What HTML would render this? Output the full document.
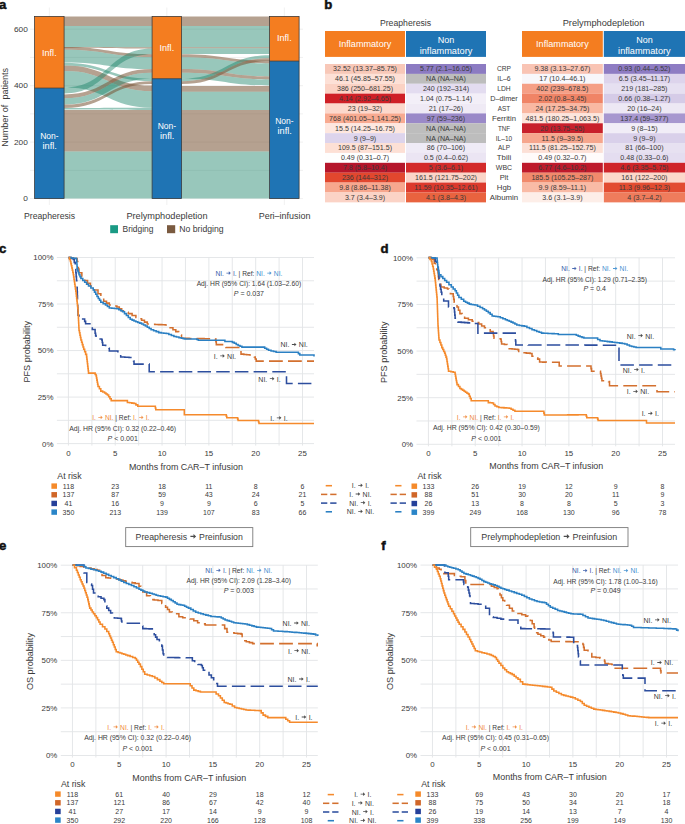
<!DOCTYPE html>
<html><head><meta charset="utf-8"><style>
html,body{margin:0;padding:0;background:#fff;}
svg{display:block;font-family:"Liberation Sans", sans-serif;}
</style></head><body>
<svg width="685" height="824" viewBox="0 0 685 824">
<rect width="685" height="824" fill="#fff"/>
<g id="panela">
<text x="-1" y="8.8" font-size="13.2" font-weight="bold" fill="#111" stroke="#111" stroke-width="0.5">a</text>
<line x1="30.00" y1="198.60" x2="303.00" y2="198.60" stroke="#e6e6e6" stroke-width="0.6" />
<line x1="30.00" y1="170.37" x2="303.00" y2="170.37" stroke="#e6e6e6" stroke-width="0.6" />
<line x1="30.00" y1="142.13" x2="303.00" y2="142.13" stroke="#e6e6e6" stroke-width="0.6" />
<line x1="30.00" y1="113.90" x2="303.00" y2="113.90" stroke="#e6e6e6" stroke-width="0.6" />
<line x1="30.00" y1="85.67" x2="303.00" y2="85.67" stroke="#e6e6e6" stroke-width="0.6" />
<line x1="30.00" y1="57.43" x2="303.00" y2="57.43" stroke="#e6e6e6" stroke-width="0.6" />
<line x1="30.00" y1="29.20" x2="303.00" y2="29.20" stroke="#e6e6e6" stroke-width="0.6" />
<text x="27.90" y="201.00" font-size="7.3" text-anchor="end" fill="#3a3a3a" font-weight="normal" textLength="4.63" lengthAdjust="spacingAndGlyphs">0</text>
<text x="27.90" y="144.53" font-size="7.3" text-anchor="end" fill="#3a3a3a" font-weight="normal" textLength="13.89" lengthAdjust="spacingAndGlyphs">200</text>
<text x="27.90" y="88.07" font-size="7.3" text-anchor="end" fill="#3a3a3a" font-weight="normal" textLength="13.89" lengthAdjust="spacingAndGlyphs">400</text>
<text x="27.90" y="31.60" font-size="7.3" text-anchor="end" fill="#3a3a3a" font-weight="normal" textLength="13.89" lengthAdjust="spacingAndGlyphs">600</text>
<line x1="49.35" y1="7.50" x2="49.35" y2="205.00" stroke="#e6e6e6" stroke-width="0.6" />
<line x1="166.85" y1="7.50" x2="166.85" y2="205.00" stroke="#e6e6e6" stroke-width="0.6" />
<line x1="284.35" y1="7.50" x2="284.35" y2="205.00" stroke="#e6e6e6" stroke-width="0.6" />
<path d="M64.10,16.40 C108.10,16.40 108.10,16.40 152.10,16.40 L152.10,26.00 C108.10,26.00 108.10,26.00 64.10,26.00 Z" fill="rgba(120,84,52,0.55)"/>
<path d="M64.10,26.00 C108.10,26.00 108.10,26.00 152.10,26.00 L152.10,47.20 C108.10,47.20 108.10,47.00 64.10,47.00 Z" fill="rgba(26,131,104,0.45)"/>
<path d="M64.10,47.00 C108.10,47.00 108.10,54.20 152.10,54.20 L152.10,57.00 C108.10,57.00 108.10,49.70 64.10,49.70 Z" fill="rgba(120,84,52,0.55)"/>
<path d="M64.10,49.70 C108.10,49.70 108.10,57.00 152.10,57.00 L152.10,69.10 C108.10,69.10 108.10,62.40 64.10,62.40 Z" fill="rgba(26,131,104,0.45)"/>
<path d="M64.10,62.80 C108.10,62.80 108.10,78.70 152.10,78.70 L152.10,81.20 C108.10,81.20 108.10,65.40 64.10,65.40 Z" fill="rgba(26,131,104,0.45)"/>
<path d="M64.10,65.40 C108.10,65.40 108.10,85.50 152.10,85.50 L152.10,91.30 C108.10,91.30 108.10,71.10 64.10,71.10 Z" fill="rgba(120,84,52,0.55)"/>
<path d="M64.10,71.10 C108.10,71.10 108.10,91.30 152.10,91.30 L152.10,107.80 C108.10,107.80 108.10,87.60 64.10,87.60 Z" fill="rgba(26,131,104,0.45)"/>
<path d="M64.10,87.60 C108.10,87.60 108.10,48.60 152.10,48.60 L152.10,54.20 C108.10,54.20 108.10,93.40 64.10,93.40 Z" fill="rgba(26,131,104,0.45)"/>
<path d="M64.10,94.40 C108.10,94.40 108.10,69.10 152.10,69.10 L152.10,72.80 C108.10,72.80 108.10,98.30 64.10,98.30 Z" fill="rgba(120,84,52,0.55)"/>
<path d="M64.10,98.30 C108.10,98.30 108.10,72.80 152.10,72.80 L152.10,78.70 C108.10,78.70 108.10,104.60 64.10,104.60 Z" fill="rgba(26,131,104,0.45)"/>
<path d="M64.10,104.60 C108.10,104.60 108.10,81.20 152.10,81.20 L152.10,84.00 C108.10,84.00 108.10,108.00 64.10,108.00 Z" fill="rgba(120,84,52,0.55)"/>
<path d="M64.10,108.00 C108.10,108.00 108.10,107.80 152.10,107.80 L152.10,110.00 C108.10,110.00 108.10,109.60 64.10,109.60 Z" fill="rgba(26,131,104,0.45)"/>
<path d="M64.10,110.00 C108.10,110.00 108.10,110.00 152.10,110.00 L152.10,151.60 C108.10,151.60 108.10,151.60 64.10,151.60 Z" fill="rgba(120,84,52,0.55)"/>
<path d="M64.10,151.60 C108.10,151.60 108.10,151.60 152.10,151.60 L152.10,198.60 C108.10,198.60 108.10,198.60 64.10,198.60 Z" fill="rgba(26,131,104,0.45)"/>
<path d="M64.10,47.00 C108.10,47.00 108.10,47.20 152.10,47.20 L152.10,48.60 C108.10,48.60 108.10,47.80 64.10,47.80 Z" fill="rgba(120,84,52,0.55)"/>
<path d="M181.60,16.40 C225.60,16.40 225.60,16.40 269.60,16.40 L269.60,26.00 C225.60,26.00 225.60,26.00 181.60,26.00 Z" fill="rgba(120,84,52,0.55)"/>
<path d="M181.60,26.00 C225.60,26.00 225.60,26.00 269.60,26.00 L269.60,47.20 C225.60,47.20 225.60,47.20 181.60,47.20 Z" fill="rgba(26,131,104,0.45)"/>
<path d="M181.60,47.20 C225.60,47.20 225.60,47.20 269.60,47.20 L269.60,48.20 C225.60,48.20 225.60,48.20 181.60,48.20 Z" fill="rgba(120,84,52,0.55)"/>
<path d="M181.60,48.20 C225.60,48.20 225.60,48.20 269.60,48.20 L269.60,54.00 C225.60,54.00 225.60,54.00 181.60,54.00 Z" fill="rgba(26,131,104,0.45)"/>
<path d="M181.60,54.20 C225.60,54.20 225.60,60.60 269.60,60.60 L269.60,63.40 C225.60,63.40 225.60,57.20 181.60,57.20 Z" fill="rgba(120,84,52,0.55)"/>
<path d="M181.60,57.20 C225.60,57.20 225.60,63.40 269.60,63.40 L269.60,76.40 C225.60,76.40 225.60,69.10 181.60,69.10 Z" fill="rgba(26,131,104,0.45)"/>
<path d="M181.60,69.10 C225.60,69.10 225.60,76.40 269.60,76.40 L269.60,79.40 C225.60,79.40 225.60,72.80 181.60,72.80 Z" fill="rgba(120,84,52,0.55)"/>
<path d="M181.60,72.80 C225.60,72.80 225.60,79.40 269.60,79.40 L269.60,85.40 C225.60,85.40 225.60,78.70 181.60,78.70 Z" fill="rgba(26,131,104,0.45)"/>
<path d="M181.60,78.70 C225.60,78.70 225.60,55.20 269.60,55.20 L269.60,58.20 C225.60,58.20 225.60,81.20 181.60,81.20 Z" fill="rgba(26,131,104,0.45)"/>
<path d="M181.60,81.20 C225.60,81.20 225.60,58.20 269.60,58.20 L269.60,61.10 C225.60,61.10 225.60,84.00 181.60,84.00 Z" fill="rgba(120,84,52,0.55)"/>
<path d="M181.60,85.90 C225.60,85.90 225.60,85.90 269.60,85.90 L269.60,91.80 C225.60,91.80 225.60,91.80 181.60,91.80 Z" fill="rgba(120,84,52,0.55)"/>
<path d="M181.60,91.80 C225.60,91.80 225.60,91.80 269.60,91.80 L269.60,110.00 C225.60,110.00 225.60,110.00 181.60,110.00 Z" fill="rgba(26,131,104,0.45)"/>
<path d="M181.60,110.00 C225.60,110.00 225.60,110.00 269.60,110.00 L269.60,151.60 C225.60,151.60 225.60,151.60 181.60,151.60 Z" fill="rgba(120,84,52,0.55)"/>
<path d="M181.60,151.60 C225.60,151.60 225.60,151.60 269.60,151.60 L269.60,198.60 C225.60,198.60 225.60,198.60 181.60,198.60 Z" fill="rgba(26,131,104,0.45)"/>
<rect x="34.60" y="16.40" width="29.50" height="71.70" fill="#f47d20" />
<rect x="34.60" y="88.10" width="29.50" height="110.50" fill="#1f74b4" />
<rect x="34.60" y="16.4" width="29.5" height="182.20" fill="none" stroke="#333" stroke-width="0.75"/>
<line x1="34.60" y1="88.10" x2="64.10" y2="88.10" stroke="#333" stroke-width="0.75"/>
<rect x="152.10" y="16.40" width="29.50" height="62.30" fill="#f47d20" />
<rect x="152.10" y="78.70" width="29.50" height="119.90" fill="#1f74b4" />
<rect x="152.10" y="16.4" width="29.5" height="182.20" fill="none" stroke="#333" stroke-width="0.75"/>
<line x1="152.10" y1="78.70" x2="181.60" y2="78.70" stroke="#333" stroke-width="0.75"/>
<rect x="269.60" y="16.40" width="29.50" height="44.70" fill="#f47d20" />
<rect x="269.60" y="61.10" width="29.50" height="137.50" fill="#1f74b4" />
<rect x="269.60" y="16.4" width="29.5" height="182.20" fill="none" stroke="#333" stroke-width="0.75"/>
<line x1="269.60" y1="61.10" x2="299.10" y2="61.10" stroke="#333" stroke-width="0.75"/>
<text x="49.35" y="56.00" font-size="8.5" text-anchor="middle" fill="#fff" font-weight="normal" textLength="14.6" lengthAdjust="spacingAndGlyphs">Infl.</text>
<text x="49.35" y="138.90" font-size="8.5" text-anchor="middle" fill="#fff" font-weight="normal" textLength="18.4" lengthAdjust="spacingAndGlyphs">Non-</text>
<text x="49.65" y="148.80" font-size="8.5" text-anchor="middle" fill="#fff" font-weight="normal" textLength="14.4" lengthAdjust="spacingAndGlyphs">infl.</text>
<text x="166.85" y="50.80" font-size="8.5" text-anchor="middle" fill="#fff" font-weight="normal" textLength="14.6" lengthAdjust="spacingAndGlyphs">Infl.</text>
<text x="166.85" y="129.00" font-size="8.5" text-anchor="middle" fill="#fff" font-weight="normal" textLength="18.4" lengthAdjust="spacingAndGlyphs">Non-</text>
<text x="167.15" y="138.90" font-size="8.5" text-anchor="middle" fill="#fff" font-weight="normal" textLength="14.4" lengthAdjust="spacingAndGlyphs">infl.</text>
<text x="284.35" y="40.80" font-size="8.5" text-anchor="middle" fill="#fff" font-weight="normal" textLength="14.6" lengthAdjust="spacingAndGlyphs">Infl.</text>
<text x="284.35" y="123.70" font-size="8.5" text-anchor="middle" fill="#fff" font-weight="normal" textLength="18.4" lengthAdjust="spacingAndGlyphs">Non-</text>
<text x="284.65" y="133.60" font-size="8.5" text-anchor="middle" fill="#fff" font-weight="normal" textLength="14.4" lengthAdjust="spacingAndGlyphs">infl.</text>
<text x="49.60" y="218.70" font-size="8.8" text-anchor="middle" fill="#3a3a3a" font-weight="normal" textLength="51" lengthAdjust="spacingAndGlyphs">Preapheresis</text>
<text x="167.00" y="218.70" font-size="8.8" text-anchor="middle" fill="#3a3a3a" font-weight="normal" textLength="81.2" lengthAdjust="spacingAndGlyphs">Prelymphodepletion</text>
<text x="284.55" y="218.70" font-size="8.8" text-anchor="middle" fill="#3a3a3a" font-weight="normal" textLength="51.7" lengthAdjust="spacingAndGlyphs">Peri–infusion</text>
<text x="0" y="0" font-size="9.0" text-anchor="middle" fill="#3a3a3a" textLength="78.9" lengthAdjust="spacingAndGlyphs" style="white-space:pre" transform="translate(7.9,107.4) rotate(-90)">Number of  patients</text>
<rect x="110.20" y="225.20" width="7.80" height="8.00" fill="#1a9a84" />
<text x="122.50" y="231.50" font-size="8.6" text-anchor="start" fill="#3a3a3a" font-weight="normal" textLength="31" lengthAdjust="spacingAndGlyphs">Bridging</text>
<rect x="167.00" y="225.20" width="8.20" height="8.00" fill="#7a5a40" />
<text x="179.30" y="231.50" font-size="8.6" text-anchor="start" fill="#3a3a3a" font-weight="normal" textLength="44.3" lengthAdjust="spacingAndGlyphs">No bridging</text>
</g>
<g id="panelb">
<text x="324.2" y="8.8" font-size="13.2" font-weight="bold" fill="#111" stroke="#111" stroke-width="0.5">b</text>
<text x="405.50" y="25.90" font-size="8.5" text-anchor="middle" fill="#3a3a3a" font-weight="normal" textLength="51.2" lengthAdjust="spacingAndGlyphs">Preapheresis</text>
<rect x="325.00" y="31.00" width="80.00" height="25.90" fill="#f47d20" />
<rect x="406.00" y="31.00" width="80.00" height="25.90" fill="#1f74b4" />
<text x="365.00" y="46.90" font-size="8.5" text-anchor="middle" fill="#fff" font-weight="normal" textLength="52.6" lengthAdjust="spacingAndGlyphs">Inflammatory</text>
<text x="446.00" y="43.30" font-size="8.5" text-anchor="middle" fill="#fff" font-weight="normal" textLength="16.5" lengthAdjust="spacingAndGlyphs">Non</text>
<text x="446.00" y="53.60" font-size="8.5" text-anchor="middle" fill="#fff" font-weight="normal" textLength="52.6" lengthAdjust="spacingAndGlyphs">inflammatory</text>
<rect x="325.00" y="64.00" width="80.00" height="9.93" fill="#f8c8b8" />
<rect x="406.00" y="64.00" width="80.00" height="9.93" fill="#8c7bc2" />
<text x="365.00" y="71.35" font-size="7.1" text-anchor="middle" fill="#3a3a3a" font-weight="normal" >32.52 (13.37–85.75)</text>
<text x="446.00" y="71.35" font-size="7.1" text-anchor="middle" fill="#3a3a3a" font-weight="normal" >5.77 (2.1–16.05)</text>
<rect x="325.00" y="73.88" width="80.00" height="9.93" fill="#fde0d6" />
<rect x="406.00" y="73.88" width="80.00" height="9.93" fill="#bdbdbd" />
<text x="365.00" y="81.23" font-size="7.1" text-anchor="middle" fill="#3a3a3a" font-weight="normal" >46.1 (45.85–57.55)</text>
<text x="446.00" y="81.23" font-size="7.1" text-anchor="middle" fill="#3a3a3a" font-weight="normal" >NA (NA–NA)</text>
<rect x="325.00" y="83.76" width="80.00" height="9.93" fill="#fbd2c4" />
<rect x="406.00" y="83.76" width="80.00" height="9.93" fill="#e3dcf0" />
<text x="365.00" y="91.11" font-size="7.1" text-anchor="middle" fill="#3a3a3a" font-weight="normal" >386 (250–681.25)</text>
<text x="446.00" y="91.11" font-size="7.1" text-anchor="middle" fill="#3a3a3a" font-weight="normal" >240 (192–314)</text>
<rect x="325.00" y="93.64" width="80.00" height="9.93" fill="#cf1f26" />
<rect x="406.00" y="93.64" width="80.00" height="9.93" fill="#f3eff8" />
<text x="365.00" y="100.99" font-size="7.1" text-anchor="middle" fill="#3a3a3a" font-weight="normal" >4.14 (2.92–4.65)</text>
<text x="446.00" y="100.99" font-size="7.1" text-anchor="middle" fill="#3a3a3a" font-weight="normal" >1.04 (0.75–1.14)</text>
<rect x="325.00" y="103.52" width="80.00" height="9.93" fill="#fcd8cc" />
<rect x="406.00" y="103.52" width="80.00" height="9.93" fill="#efeaf5" />
<text x="365.00" y="110.87" font-size="7.1" text-anchor="middle" fill="#3a3a3a" font-weight="normal" >23 (19–32)</text>
<text x="446.00" y="110.87" font-size="7.1" text-anchor="middle" fill="#3a3a3a" font-weight="normal" >21 (17–26)</text>
<rect x="325.00" y="113.40" width="80.00" height="9.93" fill="#f8aa90" />
<rect x="406.00" y="113.40" width="80.00" height="9.93" fill="#9a89c8" />
<text x="365.00" y="120.75" font-size="7.1" text-anchor="middle" fill="#3a3a3a" font-weight="normal" >768 (401.05–1,141.25)</text>
<text x="446.00" y="120.75" font-size="7.1" text-anchor="middle" fill="#3a3a3a" font-weight="normal" >97 (59–236)</text>
<rect x="325.00" y="123.28" width="80.00" height="9.93" fill="#fee7df" />
<rect x="406.00" y="123.28" width="80.00" height="9.93" fill="#bdbdbd" />
<text x="365.00" y="130.63" font-size="7.1" text-anchor="middle" fill="#3a3a3a" font-weight="normal" >15.5 (14.25–16.75)</text>
<text x="446.00" y="130.63" font-size="7.1" text-anchor="middle" fill="#3a3a3a" font-weight="normal" >NA (NA–NA)</text>
<rect x="325.00" y="133.16" width="80.00" height="9.93" fill="#ddd4ec" />
<rect x="406.00" y="133.16" width="80.00" height="9.93" fill="#bdbdbd" />
<text x="365.00" y="140.51" font-size="7.1" text-anchor="middle" fill="#3a3a3a" font-weight="normal" >9 (9–9)</text>
<text x="446.00" y="140.51" font-size="7.1" text-anchor="middle" fill="#3a3a3a" font-weight="normal" >NA (NA–NA)</text>
<rect x="325.00" y="143.04" width="80.00" height="9.93" fill="#fde0d5" />
<rect x="406.00" y="143.04" width="80.00" height="9.93" fill="#efebf6" />
<text x="365.00" y="150.39" font-size="7.1" text-anchor="middle" fill="#3a3a3a" font-weight="normal" >109.5 (87–151.5)</text>
<text x="446.00" y="150.39" font-size="7.1" text-anchor="middle" fill="#3a3a3a" font-weight="normal" >86 (70–106)</text>
<rect x="325.00" y="152.92" width="80.00" height="9.93" fill="#fefefe" />
<rect x="406.00" y="152.92" width="80.00" height="9.93" fill="#ebe5f3" />
<text x="365.00" y="160.27" font-size="7.1" text-anchor="middle" fill="#3a3a3a" font-weight="normal" >0.49 (0.31–0.7)</text>
<text x="446.00" y="160.27" font-size="7.1" text-anchor="middle" fill="#3a3a3a" font-weight="normal" >0.5 (0.4–0.62)</text>
<rect x="325.00" y="162.80" width="80.00" height="9.93" fill="#b5162b" />
<rect x="406.00" y="162.80" width="80.00" height="9.93" fill="#d32a2a" />
<text x="365.00" y="170.15" font-size="7.1" text-anchor="middle" fill="#3a3a3a" font-weight="normal" >7.8 (5.8–10.4)</text>
<text x="446.00" y="170.15" font-size="7.1" text-anchor="middle" fill="#3a3a3a" font-weight="normal" >5 (3.6–6.1)</text>
<rect x="325.00" y="172.68" width="80.00" height="9.93" fill="#e2472e" />
<rect x="406.00" y="172.68" width="80.00" height="9.93" fill="#fbd5c8" />
<text x="365.00" y="180.03" font-size="7.1" text-anchor="middle" fill="#3a3a3a" font-weight="normal" >236 (144–312)</text>
<text x="446.00" y="180.03" font-size="7.1" text-anchor="middle" fill="#3a3a3a" font-weight="normal" >161.5 (121.75–202)</text>
<rect x="325.00" y="182.56" width="80.00" height="9.93" fill="#f7a78e" />
<rect x="406.00" y="182.56" width="80.00" height="9.93" fill="#dc3a2d" />
<text x="365.00" y="189.91" font-size="7.1" text-anchor="middle" fill="#3a3a3a" font-weight="normal" >9.8 (8.86–11.38)</text>
<text x="446.00" y="189.91" font-size="7.1" text-anchor="middle" fill="#3a3a3a" font-weight="normal" >11.59 (10.35–12.61)</text>
<rect x="325.00" y="192.44" width="80.00" height="9.93" fill="#fbd3c6" />
<rect x="406.00" y="192.44" width="80.00" height="9.93" fill="#e9633f" />
<text x="365.00" y="199.79" font-size="7.1" text-anchor="middle" fill="#3a3a3a" font-weight="normal" >3.7 (3.4–3.9)</text>
<text x="446.00" y="199.79" font-size="7.1" text-anchor="middle" fill="#3a3a3a" font-weight="normal" >4.1 (3.8–4.3)</text>
<text x="603.50" y="25.90" font-size="8.5" text-anchor="middle" fill="#3a3a3a" font-weight="normal" textLength="81.7" lengthAdjust="spacingAndGlyphs">Prelymphodepletion</text>
<rect x="522.00" y="31.00" width="80.80" height="25.90" fill="#f47d20" />
<rect x="603.80" y="31.00" width="81.20" height="25.90" fill="#1f74b4" />
<text x="562.40" y="46.90" font-size="8.5" text-anchor="middle" fill="#fff" font-weight="normal" textLength="52.6" lengthAdjust="spacingAndGlyphs">Inflammatory</text>
<text x="644.40" y="43.30" font-size="8.5" text-anchor="middle" fill="#fff" font-weight="normal" textLength="16.5" lengthAdjust="spacingAndGlyphs">Non</text>
<text x="644.40" y="53.60" font-size="8.5" text-anchor="middle" fill="#fff" font-weight="normal" textLength="52.6" lengthAdjust="spacingAndGlyphs">inflammatory</text>
<rect x="522.00" y="64.00" width="80.80" height="9.93" fill="#f9c4b4" />
<rect x="603.80" y="64.00" width="81.20" height="9.93" fill="#8e7cc3" />
<text x="562.40" y="71.35" font-size="7.1" text-anchor="middle" fill="#3a3a3a" font-weight="normal" >9.38 (3.13–27.67)</text>
<text x="644.40" y="71.35" font-size="7.1" text-anchor="middle" fill="#3a3a3a" font-weight="normal" >0.93 (0.44–6.52)</text>
<rect x="522.00" y="73.88" width="80.80" height="9.93" fill="#f8f7fb" />
<rect x="603.80" y="73.88" width="81.20" height="9.93" fill="#ddd4ec" />
<text x="562.40" y="81.23" font-size="7.1" text-anchor="middle" fill="#3a3a3a" font-weight="normal" >17 (10.4–46.1)</text>
<text x="644.40" y="81.23" font-size="7.1" text-anchor="middle" fill="#3a3a3a" font-weight="normal" >6.5 (3.45–11.17)</text>
<rect x="522.00" y="83.76" width="80.80" height="9.93" fill="#f59f86" />
<rect x="603.80" y="83.76" width="81.20" height="9.93" fill="#e6e0f1" />
<text x="562.40" y="91.11" font-size="7.1" text-anchor="middle" fill="#3a3a3a" font-weight="normal" >402 (239–678.5)</text>
<text x="644.40" y="91.11" font-size="7.1" text-anchor="middle" fill="#3a3a3a" font-weight="normal" >219 (181–285)</text>
<rect x="522.00" y="93.64" width="80.80" height="9.93" fill="#f08466" />
<rect x="603.80" y="93.64" width="81.20" height="9.93" fill="#d5cbe7" />
<text x="562.40" y="100.99" font-size="7.1" text-anchor="middle" fill="#3a3a3a" font-weight="normal" >2.02 (0.8–3.45)</text>
<text x="644.40" y="100.99" font-size="7.1" text-anchor="middle" fill="#3a3a3a" font-weight="normal" >0.66 (0.38–1.27)</text>
<rect x="522.00" y="103.52" width="80.80" height="9.93" fill="#f9b8a2" />
<rect x="603.80" y="103.52" width="81.20" height="9.93" fill="#ede8f4" />
<text x="562.40" y="110.87" font-size="7.1" text-anchor="middle" fill="#3a3a3a" font-weight="normal" >24 (17.25–34.75)</text>
<text x="644.40" y="110.87" font-size="7.1" text-anchor="middle" fill="#3a3a3a" font-weight="normal" >20 (16–24)</text>
<rect x="522.00" y="113.40" width="80.80" height="9.93" fill="#fde5dc" />
<rect x="603.80" y="113.40" width="81.20" height="9.93" fill="#a797cf" />
<text x="562.40" y="120.75" font-size="7.1" text-anchor="middle" fill="#3a3a3a" font-weight="normal" >481.5 (180.25–1,063.5)</text>
<text x="644.40" y="120.75" font-size="7.1" text-anchor="middle" fill="#3a3a3a" font-weight="normal" >137.4 (59–377)</text>
<rect x="522.00" y="123.28" width="80.80" height="9.93" fill="#c8202b" />
<rect x="603.80" y="123.28" width="81.20" height="9.93" fill="#f1edf7" />
<text x="562.40" y="130.63" font-size="7.1" text-anchor="middle" fill="#3a3a3a" font-weight="normal" >20 (13.75–55)</text>
<text x="644.40" y="130.63" font-size="7.1" text-anchor="middle" fill="#3a3a3a" font-weight="normal" >9 (8–15)</text>
<rect x="522.00" y="133.16" width="80.80" height="9.93" fill="#f6a68d" />
<rect x="603.80" y="133.16" width="81.20" height="9.93" fill="#d9d0ea" />
<text x="562.40" y="140.51" font-size="7.1" text-anchor="middle" fill="#3a3a3a" font-weight="normal" >11.5 (9–39.5)</text>
<text x="644.40" y="140.51" font-size="7.1" text-anchor="middle" fill="#3a3a3a" font-weight="normal" >9 (9–9)</text>
<rect x="522.00" y="143.04" width="80.80" height="9.93" fill="#fce0d6" />
<rect x="603.80" y="143.04" width="81.20" height="9.93" fill="#e7e1f1" />
<text x="562.40" y="150.39" font-size="7.1" text-anchor="middle" fill="#3a3a3a" font-weight="normal" >111.5 (81.25–152.75)</text>
<text x="644.40" y="150.39" font-size="7.1" text-anchor="middle" fill="#3a3a3a" font-weight="normal" >81 (66–100)</text>
<rect x="522.00" y="152.92" width="80.80" height="9.93" fill="#fffbfa" />
<rect x="603.80" y="152.92" width="81.20" height="9.93" fill="#e4ddf0" />
<text x="562.40" y="160.27" font-size="7.1" text-anchor="middle" fill="#3a3a3a" font-weight="normal" >0.49 (0.32–0.7)</text>
<text x="644.40" y="160.27" font-size="7.1" text-anchor="middle" fill="#3a3a3a" font-weight="normal" >0.48 (0.33–0.6)</text>
<rect x="522.00" y="162.80" width="80.80" height="9.93" fill="#be1a2b" />
<rect x="603.80" y="162.80" width="81.20" height="9.93" fill="#cf2429" />
<text x="562.40" y="170.15" font-size="7.1" text-anchor="middle" fill="#3a3a3a" font-weight="normal" >6.77 (4.6–10.2)</text>
<text x="644.40" y="170.15" font-size="7.1" text-anchor="middle" fill="#3a3a3a" font-weight="normal" >4.6 (3.35–5.75)</text>
<rect x="522.00" y="172.68" width="80.80" height="9.93" fill="#f18a6c" />
<rect x="603.80" y="172.68" width="81.20" height="9.93" fill="#fcd8ca" />
<text x="562.40" y="180.03" font-size="7.1" text-anchor="middle" fill="#3a3a3a" font-weight="normal" >185.5 (105.25–287)</text>
<text x="644.40" y="180.03" font-size="7.1" text-anchor="middle" fill="#3a3a3a" font-weight="normal" >161 (122–200)</text>
<rect x="522.00" y="182.56" width="80.80" height="9.93" fill="#f9bba6" />
<rect x="603.80" y="182.56" width="81.20" height="9.93" fill="#e24c31" />
<text x="562.40" y="189.91" font-size="7.1" text-anchor="middle" fill="#3a3a3a" font-weight="normal" >9.9 (8.59–11.1)</text>
<text x="644.40" y="189.91" font-size="7.1" text-anchor="middle" fill="#3a3a3a" font-weight="normal" >11.3 (9.96–12.3)</text>
<rect x="522.00" y="192.44" width="80.80" height="9.93" fill="#fdeee8" />
<rect x="603.80" y="192.44" width="81.20" height="9.93" fill="#ef7c5c" />
<text x="562.40" y="199.79" font-size="7.1" text-anchor="middle" fill="#3a3a3a" font-weight="normal" >3.6 (3.1–3.9)</text>
<text x="644.40" y="199.79" font-size="7.1" text-anchor="middle" fill="#3a3a3a" font-weight="normal" >4 (3.7–4.2)</text>
<text x="504.00" y="71.35" font-size="7.1" text-anchor="middle" fill="#3a3a3a" font-weight="normal" textLength="14" lengthAdjust="spacingAndGlyphs">CRP</text>
<text x="504.00" y="81.23" font-size="7.1" text-anchor="middle" fill="#3a3a3a" font-weight="normal" textLength="13.4" lengthAdjust="spacingAndGlyphs">IL–6</text>
<text x="504.00" y="91.11" font-size="7.1" text-anchor="middle" fill="#3a3a3a" font-weight="normal" textLength="13.4" lengthAdjust="spacingAndGlyphs">LDH</text>
<text x="504.00" y="100.99" font-size="7.1" text-anchor="middle" fill="#3a3a3a" font-weight="normal" textLength="27.6" lengthAdjust="spacingAndGlyphs">D–dimer</text>
<text x="504.00" y="110.87" font-size="7.1" text-anchor="middle" fill="#3a3a3a" font-weight="normal" textLength="12.5" lengthAdjust="spacingAndGlyphs">AST</text>
<text x="504.00" y="120.75" font-size="7.1" text-anchor="middle" fill="#3a3a3a" font-weight="normal" textLength="24" lengthAdjust="spacingAndGlyphs">Ferritin</text>
<text x="504.00" y="130.63" font-size="7.1" text-anchor="middle" fill="#3a3a3a" font-weight="normal" textLength="12.2" lengthAdjust="spacingAndGlyphs">TNF</text>
<text x="504.00" y="140.51" font-size="7.1" text-anchor="middle" fill="#3a3a3a" font-weight="normal" textLength="16.4" lengthAdjust="spacingAndGlyphs">IL–10</text>
<text x="504.00" y="150.39" font-size="7.1" text-anchor="middle" fill="#3a3a3a" font-weight="normal" textLength="12.2" lengthAdjust="spacingAndGlyphs">ALP</text>
<text x="504.00" y="160.27" font-size="7.1" text-anchor="middle" fill="#3a3a3a" font-weight="normal" textLength="14.3" lengthAdjust="spacingAndGlyphs">Tbili</text>
<text x="504.00" y="170.15" font-size="7.1" text-anchor="middle" fill="#3a3a3a" font-weight="normal" textLength="16.3" lengthAdjust="spacingAndGlyphs">WBC</text>
<text x="504.00" y="180.03" font-size="7.1" text-anchor="middle" fill="#3a3a3a" font-weight="normal" textLength="8.7" lengthAdjust="spacingAndGlyphs">Plt</text>
<text x="504.00" y="189.91" font-size="7.1" text-anchor="middle" fill="#3a3a3a" font-weight="normal" textLength="14.3" lengthAdjust="spacingAndGlyphs">Hgb</text>
<text x="504.00" y="199.79" font-size="7.1" text-anchor="middle" fill="#3a3a3a" font-weight="normal" textLength="28.4" lengthAdjust="spacingAndGlyphs">Albumin</text>
</g>
<g>
<text x="-1.00" y="253.00" font-size="13.2" font-weight="bold" fill="#111" stroke="#111" stroke-width="0.5">c</text>
<line x1="56.90" y1="443.60" x2="314.00" y2="443.60" stroke="#e2e4e6" stroke-width="0.9" />
<line x1="56.90" y1="420.34" x2="314.00" y2="420.34" stroke="#e2e4e6" stroke-width="0.9" />
<line x1="56.90" y1="397.08" x2="314.00" y2="397.08" stroke="#e2e4e6" stroke-width="0.9" />
<line x1="56.90" y1="373.81" x2="314.00" y2="373.81" stroke="#e2e4e6" stroke-width="0.9" />
<line x1="56.90" y1="350.55" x2="314.00" y2="350.55" stroke="#e2e4e6" stroke-width="0.9" />
<line x1="56.90" y1="327.29" x2="314.00" y2="327.29" stroke="#e2e4e6" stroke-width="0.9" />
<line x1="56.90" y1="304.02" x2="314.00" y2="304.02" stroke="#e2e4e6" stroke-width="0.9" />
<line x1="56.90" y1="280.76" x2="314.00" y2="280.76" stroke="#e2e4e6" stroke-width="0.9" />
<line x1="56.90" y1="257.50" x2="314.00" y2="257.50" stroke="#e2e4e6" stroke-width="0.9" />
<line x1="68.45" y1="257.50" x2="68.45" y2="445.60" stroke="#e2e4e6" stroke-width="0.9" />
<line x1="91.86" y1="257.50" x2="91.86" y2="445.60" stroke="#e2e4e6" stroke-width="0.9" />
<line x1="115.26" y1="257.50" x2="115.26" y2="445.60" stroke="#e2e4e6" stroke-width="0.9" />
<line x1="138.67" y1="257.50" x2="138.67" y2="445.60" stroke="#e2e4e6" stroke-width="0.9" />
<line x1="162.07" y1="257.50" x2="162.07" y2="445.60" stroke="#e2e4e6" stroke-width="0.9" />
<line x1="185.48" y1="257.50" x2="185.48" y2="445.60" stroke="#e2e4e6" stroke-width="0.9" />
<line x1="208.88" y1="257.50" x2="208.88" y2="445.60" stroke="#e2e4e6" stroke-width="0.9" />
<line x1="232.29" y1="257.50" x2="232.29" y2="445.60" stroke="#e2e4e6" stroke-width="0.9" />
<line x1="255.69" y1="257.50" x2="255.69" y2="445.60" stroke="#e2e4e6" stroke-width="0.9" />
<line x1="279.10" y1="257.50" x2="279.10" y2="445.60" stroke="#e2e4e6" stroke-width="0.9" />
<line x1="302.50" y1="257.50" x2="302.50" y2="445.60" stroke="#e2e4e6" stroke-width="0.9" />
<text x="53.50" y="446.50" font-size="7.9" text-anchor="end" fill="#3a3a3a"  >0%</text>
<text x="53.50" y="399.98" font-size="7.9" text-anchor="end" fill="#3a3a3a"  >25%</text>
<text x="53.50" y="353.45" font-size="7.9" text-anchor="end" fill="#3a3a3a"  >50%</text>
<text x="53.50" y="306.92" font-size="7.9" text-anchor="end" fill="#3a3a3a"  >75%</text>
<text x="53.50" y="260.40" font-size="7.9" text-anchor="end" fill="#3a3a3a"  >100%</text>
<text x="68.45" y="455.50" font-size="7.9" text-anchor="middle" fill="#3a3a3a"  >0</text>
<text x="115.26" y="455.50" font-size="7.9" text-anchor="middle" fill="#3a3a3a"  >5</text>
<text x="162.07" y="455.50" font-size="7.9" text-anchor="middle" fill="#3a3a3a"  >10</text>
<text x="208.88" y="455.50" font-size="7.9" text-anchor="middle" fill="#3a3a3a"  >15</text>
<text x="255.69" y="455.50" font-size="7.9" text-anchor="middle" fill="#3a3a3a"  >20</text>
<text x="302.50" y="455.50" font-size="7.9" text-anchor="middle" fill="#3a3a3a"  >25</text>
<text x="185.90" y="470.20" font-size="9.0" text-anchor="middle" fill="#3a3a3a" textLength="113.90" lengthAdjust="spacingAndGlyphs" >Months from CAR–T infusion</text>
<text x="0" y="0" font-size="8.8" text-anchor="middle" fill="#3a3a3a" textLength="61.46" lengthAdjust="spacingAndGlyphs" transform="translate(30.00,351.75) rotate(-90)">PFS probability</text>
<path d="M68.50,257.60 H70.90 V258.05 H73.30 V258.50 H77.10 V261.40 H77.73 V265.20 H78.37 V269.00 H79.00 V272.80 H81.85 V276.60 H84.70 V280.40 H87.55 V283.25 H90.40 V286.10 H94.20 V289.90 H98.00 V293.70 H100.85 V297.45 H103.70 V301.20 H106.50 V303.10 H109.30 V305.00 H113.10 V306.00 H116.90 V307.00 H119.30 V308.85 H121.70 V310.70 H125.00 V312.15 H128.30 V313.60 H132.10 V315.50 H135.90 V317.40 H138.75 V318.80 H141.60 V320.20 H144.45 V322.10 H147.30 V324.00 H151.10 V324.20 H154.90 V324.40 H158.37 V324.60 H161.83 V324.80 H165.30 V325.00 H167.70 V326.40 H170.10 V327.80 H172.95 V329.70 H175.80 V331.60 H178.65 V334.95 H181.50 V338.30 H185.27 V338.37 H189.03 V338.43 H192.80 V338.50 H196.57 V338.57 H200.33 V338.63 H204.10 V338.70 H207.87 V338.77 H211.63 V338.83 H215.40 V338.90 H215.85 V341.75 H216.30 V344.60 H222.00 V344.60 H225.80 V347.40 H240.00 V347.40 H240.50 V350.75 H241.00 V354.10 H243.83 V354.40 H246.67 V354.70 H249.50 V355.00 H251.90 V355.95 H254.30 V356.90 H255.25 V359.00 H256.20 V361.10 H314.00 V361.10" fill="none" stroke="#d3702f" stroke-width="1.55" stroke-dasharray="13.8 5.2"/>
<path d="M68.50,257.60 H70.90 V258.55 H73.30 V259.50 H74.25 V262.35 H75.20 V265.20 H75.52 V269.00 H75.83 V272.80 H76.15 V276.60 H76.47 V280.40 H76.78 V284.20 H77.10 V288.00 H77.23 V291.89 H77.36 V295.77 H77.49 V299.66 H77.61 V303.54 H77.74 V307.43 H77.87 V311.31 H78.00 V315.20 H79.00 V319.00 H83.70 V319.00 H84.65 V321.35 H85.60 V323.70 H91.30 V323.70 H91.80 V326.55 H92.30 V329.40 H95.10 V333.20 H95.60 V335.60 H96.10 V338.00 H98.95 V338.95 H101.80 V339.90 H102.25 V342.55 H102.70 V345.20 H105.55 V345.35 H108.40 V345.50 H108.85 V348.20 H109.30 V350.90 H116.90 V350.90 H117.90 V354.10 H120.70 V356.90 H124.83 V357.23 H128.97 V357.57 H133.10 V357.90 H133.55 V361.00 H134.00 V364.10 H146.40 V364.10 H149.20 V367.40 H149.20 V371.70 H286.50 V371.70 H286.50 V383.50 H314.00 V383.50" fill="none" stroke="#2d4e9e" stroke-width="1.55" stroke-dasharray="13.5 5.2"/>
<path d="M68.50,257.60 H71.03 V257.90 H73.57 V258.20 H76.10 V258.50 H76.60 V260.00 H76.75 V262.25 H76.90 V264.50 H77.05 V266.75 H77.20 V269.00 H77.80 V270.90 H78.40 V272.80 H79.00 V274.70 H79.95 V276.60 H80.90 V278.50 H82.80 V280.40 H84.70 V282.30 H86.60 V284.15 H88.50 V286.00 H90.85 V287.95 H93.20 V289.90 H94.47 V292.10 H95.73 V294.30 H97.00 V296.50 H98.27 V298.40 H99.53 V300.30 H100.80 V302.20 H103.15 V303.60 H105.50 V305.00 H107.40 V306.45 H109.30 V307.90 H111.83 V308.20 H114.37 V308.50 H116.90 V308.80 H118.80 V309.77 H120.70 V310.73 H122.60 V311.70 H124.50 V313.60 H126.40 V315.50 H128.30 V317.40 H130.20 V319.30 H132.10 V320.10 H134.00 V320.90 H135.90 V321.70 H137.80 V322.40 H139.70 V323.10 H141.60 V324.03 H143.50 V324.97 H145.40 V325.90 H147.30 V327.17 H149.20 V328.43 H151.10 V329.70 H153.63 V330.67 H156.17 V331.63 H158.70 V332.60 H161.23 V332.90 H163.77 V333.20 H166.30 V333.50 H168.83 V334.47 H171.37 V335.43 H173.90 V336.40 H176.43 V337.03 H178.97 V337.67 H181.50 V338.30 H183.25 V338.60 H185.00 V338.90 H195.40 V338.90 H196.85 V339.55 H198.30 V340.20 H223.00 V340.20 H224.90 V341.40 H230.50 V341.40 H232.40 V342.35 H234.30 V343.30 H236.20 V344.40 H238.10 V345.50 H240.00 V346.30 H241.90 V347.10 H262.80 V347.10 H264.70 V348.17 H266.60 V349.23 H268.50 V350.30 H271.03 V350.93 H273.57 V351.57 H276.10 V352.20 H297.00 V352.20 H298.40 V353.60 H299.80 V355.00 H312.20 V355.00 H314.00 V356.60" fill="none" stroke="#2b80c3" stroke-width="1.55" />
<path d="M68.50,257.60 H69.45 V259.50 H70.40 V261.40 H70.88 V263.62 H71.37 V265.83 H71.85 V268.05 H72.33 V270.27 H72.82 V272.48 H73.30 V274.70 H73.65 V277.07 H74.00 V279.45 H74.35 V281.82 H74.70 V284.20 H75.05 V286.57 H75.40 V288.95 H75.75 V291.32 H76.10 V293.70 H76.37 V296.13 H76.64 V298.56 H76.91 V300.99 H77.19 V303.41 H77.46 V305.84 H77.73 V308.27 H78.00 V310.70 H78.12 V313.16 H78.25 V315.62 H78.38 V318.09 H78.50 V320.55 H78.62 V323.01 H78.75 V325.47 H78.88 V327.94 H79.00 V330.40 H79.47 V332.77 H79.95 V335.15 H80.43 V337.52 H80.90 V339.90 H81.60 V342.25 H82.30 V344.60 H83.00 V346.95 H83.70 V349.30 H84.67 V351.83 H85.63 V354.37 H86.60 V356.90 H86.87 V359.21 H87.14 V361.53 H87.41 V363.84 H87.69 V366.16 H87.96 V368.47 H88.23 V370.79 H88.50 V373.10 H94.20 V373.10 H95.15 V374.50 H96.10 V375.90 H96.48 V378.00 H96.86 V380.10 H97.24 V382.20 H97.62 V384.30 H98.00 V386.40 H99.40 V388.75 H100.80 V391.10 H102.70 V392.05 H104.60 V393.00 H106.00 V393.95 H107.40 V394.90 H108.67 V396.80 H109.93 V398.70 H111.20 V400.60 H126.40 V400.60 H127.40 V402.50 H129.60 V402.80 H131.80 V403.10 H134.00 V403.40 H135.90 V404.85 H137.80 V406.30 H154.90 V406.30 H155.35 V408.00 H155.80 V409.70 H184.30 V409.70 H184.30 V414.80 H225.80 V414.80 H226.30 V416.25 H226.80 V417.70 H237.20 V417.70 H237.65 V419.10 H238.10 V420.50 H258.10 V420.50 H258.55 V421.95 H259.00 V423.40 H314.00 V423.40" fill="none" stroke="#f58a2c" stroke-width="1.55" />
<g transform="translate(294.10,0) scale(1.0000,1) translate(-294.10,0)">
<text x="280.41" y="347.40" font-size="7.0" fill="#3a3a3a" style="white-space:pre">NI. </text>
<path d="M291.90,344.08 H294.40 V342.65 L296.50,344.50 L294.40,346.35 V344.92 H291.90 Z" fill="#3a3a3a" fill-opacity="0.9"/>
<text x="296.90" y="347.40" font-size="7.0" fill="#3a3a3a" style="white-space:pre"> NI.</text>
</g>
<g transform="translate(224.90,0) scale(1.0000,1) translate(-224.90,0)">
<text x="213.74" y="358.80" font-size="7.0" fill="#3a3a3a" style="white-space:pre">I. </text>
<path d="M220.17,355.48 H222.67 V354.05 L224.77,355.90 L222.67,357.75 V356.32 H220.17 Z" fill="#3a3a3a" fill-opacity="0.9"/>
<text x="225.17" y="358.80" font-size="7.0" fill="#3a3a3a" style="white-space:pre"> NI.</text>
</g>
<g transform="translate(269.50,0) scale(1.0000,1) translate(-269.50,0)">
<text x="258.34" y="381.60" font-size="7.0" fill="#3a3a3a" style="white-space:pre">NI. </text>
<path d="M269.83,378.28 H272.33 V376.85 L274.43,378.70 L272.33,380.55 V379.12 H269.83 Z" fill="#3a3a3a" fill-opacity="0.9"/>
<text x="274.83" y="381.60" font-size="7.0" fill="#3a3a3a" style="white-space:pre"> I.</text>
</g>
<g transform="translate(279.00,0) scale(1.0000,1) translate(-279.00,0)">
<text x="270.37" y="420.70" font-size="7.0" fill="#3a3a3a" style="white-space:pre">I. </text>
<path d="M276.80,417.38 H279.30 V415.95 L281.40,417.80 L279.30,419.65 V418.22 H276.80 Z" fill="#3a3a3a" fill-opacity="0.9"/>
<text x="281.80" y="420.70" font-size="7.0" fill="#3a3a3a" style="white-space:pre"> I.</text>
</g>
<g transform="translate(248.90,0) scale(0.9530,1) translate(-248.90,0)">
<text x="213.80" y="276.00" font-size="7.0" fill="#3459a8" style="white-space:pre">NI. </text>
<path d="M225.29,272.68 H227.79 V271.25 L229.89,273.10 L227.79,274.95 V273.52 H225.29 Z" fill="#3459a8" fill-opacity="0.9"/>
<text x="230.29" y="276.00" font-size="7.0" fill="#3459a8" style="white-space:pre"> I.</text>
<text x="236.13" y="276.00" font-size="7.0" fill="#3a3a3a" style="white-space:pre"> | Ref: </text>
<text x="256.62" y="276.00" font-size="7.0" fill="#3d8ed0" style="white-space:pre">NI. </text>
<path d="M268.11,272.68 H270.61 V271.25 L272.71,273.10 L270.61,274.95 V273.52 H268.11 Z" fill="#3d8ed0" fill-opacity="0.9"/>
<text x="273.11" y="276.00" font-size="7.0" fill="#3d8ed0" style="white-space:pre"> NI.</text>
</g>
<text x="248.90" y="286.10" font-size="7.0" text-anchor="middle" fill="#3a3a3a" textLength="104.50" lengthAdjust="spacingAndGlyphs" >Adj. HR (95% CI): 1.64 (1.03–2.60)</text>
<text x="248.90" y="295.70" font-size="7.0" text-anchor="middle" fill="#3a3a3a"><tspan font-style="italic">P</tspan> = 0.037</text>
<g transform="translate(120.80,0) scale(0.9530,1) translate(-120.80,0)">
<text x="90.76" y="420.30" font-size="7.0" fill="#f0873a" style="white-space:pre">I. </text>
<path d="M97.19,416.98 H99.69 V415.55 L101.79,417.40 L99.69,419.25 V417.82 H97.19 Z" fill="#f0873a" fill-opacity="0.9"/>
<text x="102.19" y="420.30" font-size="7.0" fill="#f0873a" style="white-space:pre"> NI.</text>
<text x="113.08" y="420.30" font-size="7.0" fill="#3a3a3a" style="white-space:pre"> | Ref: </text>
<text x="133.57" y="420.30" font-size="7.0" fill="#f0873a" style="white-space:pre">I. </text>
<path d="M140.01,416.98 H142.51 V415.55 L144.61,417.40 L142.51,419.25 V417.82 H140.01 Z" fill="#f0873a" fill-opacity="0.9"/>
<text x="145.01" y="420.30" font-size="7.0" fill="#f0873a" style="white-space:pre"> I.</text>
</g>
<text x="122.70" y="430.90" font-size="7.0" text-anchor="middle" fill="#3a3a3a" textLength="106.90" lengthAdjust="spacingAndGlyphs" >Adj. HR (95% CI): 0.32 (0.22–0.46)</text>
<text x="122.70" y="441.10" font-size="7.0" text-anchor="middle" fill="#3a3a3a"><tspan font-style="italic">P</tspan> &lt; 0.001</text>
<text x="57.30" y="479.10" font-size="8.2" text-anchor="start" fill="#3a3a3a" textLength="24.30" lengthAdjust="spacingAndGlyphs" >At risk</text>
<rect x="51.40" y="483.40" width="5.60" height="5.40" fill="#f58a2a" />
<text x="68.45" y="488.60" font-size="7.0" text-anchor="middle" fill="#3a3a3a"  >118</text>
<text x="115.26" y="488.60" font-size="7.0" text-anchor="middle" fill="#3a3a3a"  >23</text>
<text x="162.07" y="488.60" font-size="7.0" text-anchor="middle" fill="#3a3a3a"  >18</text>
<text x="208.88" y="488.60" font-size="7.0" text-anchor="middle" fill="#3a3a3a"  >11</text>
<text x="255.69" y="488.60" font-size="7.0" text-anchor="middle" fill="#3a3a3a"  >8</text>
<text x="302.50" y="488.60" font-size="7.0" text-anchor="middle" fill="#3a3a3a"  >6</text>
<rect x="51.40" y="492.07" width="5.60" height="5.40" fill="#d06628" />
<text x="68.45" y="497.27" font-size="7.0" text-anchor="middle" fill="#3a3a3a"  >137</text>
<text x="115.26" y="497.27" font-size="7.0" text-anchor="middle" fill="#3a3a3a"  >87</text>
<text x="162.07" y="497.27" font-size="7.0" text-anchor="middle" fill="#3a3a3a"  >59</text>
<text x="208.88" y="497.27" font-size="7.0" text-anchor="middle" fill="#3a3a3a"  >43</text>
<text x="255.69" y="497.27" font-size="7.0" text-anchor="middle" fill="#3a3a3a"  >24</text>
<text x="302.50" y="497.27" font-size="7.0" text-anchor="middle" fill="#3a3a3a"  >21</text>
<rect x="51.40" y="500.74" width="5.60" height="5.40" fill="#25409a" />
<text x="68.45" y="505.94" font-size="7.0" text-anchor="middle" fill="#3a3a3a"  >41</text>
<text x="115.26" y="505.94" font-size="7.0" text-anchor="middle" fill="#3a3a3a"  >16</text>
<text x="162.07" y="505.94" font-size="7.0" text-anchor="middle" fill="#3a3a3a"  >9</text>
<text x="208.88" y="505.94" font-size="7.0" text-anchor="middle" fill="#3a3a3a"  >9</text>
<text x="255.69" y="505.94" font-size="7.0" text-anchor="middle" fill="#3a3a3a"  >6</text>
<text x="302.50" y="505.94" font-size="7.0" text-anchor="middle" fill="#3a3a3a"  >5</text>
<rect x="51.40" y="509.41" width="5.60" height="5.40" fill="#2a85c8" />
<text x="68.45" y="514.61" font-size="7.0" text-anchor="middle" fill="#3a3a3a"  >350</text>
<text x="115.26" y="514.61" font-size="7.0" text-anchor="middle" fill="#3a3a3a"  >213</text>
<text x="162.07" y="514.61" font-size="7.0" text-anchor="middle" fill="#3a3a3a"  >139</text>
<text x="208.88" y="514.61" font-size="7.0" text-anchor="middle" fill="#3a3a3a"  >107</text>
<text x="255.69" y="514.61" font-size="7.0" text-anchor="middle" fill="#3a3a3a"  >83</text>
<text x="302.50" y="514.61" font-size="7.0" text-anchor="middle" fill="#3a3a3a"  >66</text>
</g>
<g>
<text x="380.50" y="252.80" font-size="13.2" font-weight="bold" fill="#111" stroke="#111" stroke-width="0.5">d</text>
<line x1="416.50" y1="444.30" x2="675.00" y2="444.30" stroke="#e2e4e6" stroke-width="0.9" />
<line x1="416.50" y1="420.99" x2="675.00" y2="420.99" stroke="#e2e4e6" stroke-width="0.9" />
<line x1="416.50" y1="397.68" x2="675.00" y2="397.68" stroke="#e2e4e6" stroke-width="0.9" />
<line x1="416.50" y1="374.36" x2="675.00" y2="374.36" stroke="#e2e4e6" stroke-width="0.9" />
<line x1="416.50" y1="351.05" x2="675.00" y2="351.05" stroke="#e2e4e6" stroke-width="0.9" />
<line x1="416.50" y1="327.74" x2="675.00" y2="327.74" stroke="#e2e4e6" stroke-width="0.9" />
<line x1="416.50" y1="304.43" x2="675.00" y2="304.43" stroke="#e2e4e6" stroke-width="0.9" />
<line x1="416.50" y1="281.11" x2="675.00" y2="281.11" stroke="#e2e4e6" stroke-width="0.9" />
<line x1="416.50" y1="257.80" x2="675.00" y2="257.80" stroke="#e2e4e6" stroke-width="0.9" />
<line x1="428.45" y1="257.80" x2="428.45" y2="446.30" stroke="#e2e4e6" stroke-width="0.9" />
<line x1="451.86" y1="257.80" x2="451.86" y2="446.30" stroke="#e2e4e6" stroke-width="0.9" />
<line x1="475.26" y1="257.80" x2="475.26" y2="446.30" stroke="#e2e4e6" stroke-width="0.9" />
<line x1="498.66" y1="257.80" x2="498.66" y2="446.30" stroke="#e2e4e6" stroke-width="0.9" />
<line x1="522.07" y1="257.80" x2="522.07" y2="446.30" stroke="#e2e4e6" stroke-width="0.9" />
<line x1="545.48" y1="257.80" x2="545.48" y2="446.30" stroke="#e2e4e6" stroke-width="0.9" />
<line x1="568.88" y1="257.80" x2="568.88" y2="446.30" stroke="#e2e4e6" stroke-width="0.9" />
<line x1="592.28" y1="257.80" x2="592.28" y2="446.30" stroke="#e2e4e6" stroke-width="0.9" />
<line x1="615.69" y1="257.80" x2="615.69" y2="446.30" stroke="#e2e4e6" stroke-width="0.9" />
<line x1="639.10" y1="257.80" x2="639.10" y2="446.30" stroke="#e2e4e6" stroke-width="0.9" />
<line x1="662.50" y1="257.80" x2="662.50" y2="446.30" stroke="#e2e4e6" stroke-width="0.9" />
<text x="413.10" y="447.20" font-size="7.9" text-anchor="end" fill="#3a3a3a"  >0%</text>
<text x="413.10" y="400.57" font-size="7.9" text-anchor="end" fill="#3a3a3a"  >25%</text>
<text x="413.10" y="353.95" font-size="7.9" text-anchor="end" fill="#3a3a3a"  >50%</text>
<text x="413.10" y="307.32" font-size="7.9" text-anchor="end" fill="#3a3a3a"  >75%</text>
<text x="413.10" y="260.70" font-size="7.9" text-anchor="end" fill="#3a3a3a"  >100%</text>
<text x="428.45" y="456.20" font-size="7.9" text-anchor="middle" fill="#3a3a3a"  >0</text>
<text x="475.26" y="456.20" font-size="7.9" text-anchor="middle" fill="#3a3a3a"  >5</text>
<text x="522.07" y="456.20" font-size="7.9" text-anchor="middle" fill="#3a3a3a"  >10</text>
<text x="568.88" y="456.20" font-size="7.9" text-anchor="middle" fill="#3a3a3a"  >15</text>
<text x="615.69" y="456.20" font-size="7.9" text-anchor="middle" fill="#3a3a3a"  >20</text>
<text x="662.50" y="456.20" font-size="7.9" text-anchor="middle" fill="#3a3a3a"  >25</text>
<text x="546.30" y="469.30" font-size="9.0" text-anchor="middle" fill="#3a3a3a" textLength="113.90" lengthAdjust="spacingAndGlyphs" >Months from CAR–T infusion</text>
<text x="0" y="0" font-size="8.8" text-anchor="middle" fill="#3a3a3a" textLength="61.46" lengthAdjust="spacingAndGlyphs" transform="translate(387.20,352.25) rotate(-90)">PFS probability</text>
<path d="M428.50,257.60 H431.40 V259.50 H434.20 V263.30 H435.47 V266.47 H436.73 V269.63 H438.00 V272.80 H438.33 V276.60 H438.67 V280.40 H439.00 V284.20 H440.90 V287.00 H444.20 V287.95 H447.50 V288.90 H448.95 V291.30 H450.40 V293.70 H453.20 V296.50 H453.70 V299.35 H454.20 V302.20 H455.60 V304.55 H457.00 V306.90 H458.45 V310.25 H459.90 V313.60 H462.25 V315.95 H464.60 V318.30 H468.40 V319.75 H472.20 V321.20 H475.50 V322.60 H478.80 V324.00 H481.65 V325.90 H484.50 V327.80 H487.37 V329.70 H490.23 V331.60 H493.10 V333.50 H493.55 V335.90 H494.00 V338.30 H497.35 V338.75 H500.70 V339.20 H501.15 V341.55 H501.60 V343.90 H504.45 V344.40 H507.30 V344.90 H509.20 V348.70 H512.03 V349.00 H514.87 V349.30 H517.70 V349.60 H518.70 V352.50 H522.50 V352.80 H526.30 V353.10 H530.10 V353.40 H532.00 V356.30 H534.85 V357.70 H537.70 V359.10 H539.60 V362.00 H542.90 V362.10 H546.20 V362.20 H558.30 V362.20 H559.20 V366.00 H590.50 V366.00 H591.00 V368.60 H591.50 V371.20 H600.00 V371.20 H600.50 V373.55 H601.00 V375.90 H601.45 V378.30 H601.90 V380.70 H605.25 V381.15 H608.60 V381.60 H609.50 V385.80 H656.00 V385.80 H656.50 V388.75 H657.00 V391.70 H675.00 V391.70" fill="none" stroke="#d3702f" stroke-width="1.55" stroke-dasharray="13.8 5.2"/>
<path d="M428.50,257.60 H430.90 V257.80 H433.30 V258.00 H435.20 V261.40 H436.60 V263.75 H438.00 V266.10 H438.33 V270.23 H438.67 V274.37 H439.00 V278.50 H439.45 V282.25 H439.90 V286.00 H440.53 V289.17 H441.17 V292.33 H441.80 V295.50 H442.75 V298.20 H443.70 V300.90 H446.10 V301.05 H448.50 V301.20 H448.50 V306.90 H451.35 V307.85 H454.20 V308.80 H454.50 V311.97 H454.80 V315.13 H455.10 V318.30 H458.00 V322.10 H461.30 V322.35 H464.60 V322.60 H467.90 V322.85 H471.20 V323.10 H474.55 V323.55 H477.90 V324.00 H477.90 V333.10 H514.90 V333.10 H515.20 V337.03 H515.50 V340.97 H515.80 V344.90 H519.93 V344.91 H524.06 V344.92 H528.18 V344.94 H532.31 V344.95 H536.44 V344.96 H540.57 V344.97 H544.70 V344.98 H548.82 V345.00 H552.95 V345.01 H557.08 V345.02 H561.21 V345.03 H565.34 V345.04 H569.46 V345.06 H573.59 V345.07 H577.72 V345.08 H581.85 V345.09 H585.98 V345.10 H590.10 V345.12 H594.23 V345.13 H598.36 V345.14 H602.49 V345.15 H606.62 V345.16 H610.74 V345.18 H614.87 V345.19 H619.00 V345.20 H619.00 V364.90 H675.00 V364.90" fill="none" stroke="#2d4e9e" stroke-width="1.55" stroke-dasharray="13.5 5.2"/>
<path d="M428.50,257.60 H430.73 V257.73 H432.97 V257.87 H435.20 V258.00 H437.10 V260.40 H437.33 V262.55 H437.55 V264.70 H437.77 V266.85 H438.00 V269.00 H438.33 V270.90 H438.67 V272.80 H439.00 V274.70 H440.90 V276.60 H442.80 V278.50 H444.70 V280.40 H446.60 V282.30 H448.95 V284.65 H451.30 V287.00 H453.20 V288.90 H455.10 V290.80 H456.37 V293.00 H457.63 V295.20 H458.90 V297.40 H461.30 V299.30 H463.70 V301.20 H465.57 V302.17 H467.43 V303.13 H469.30 V304.10 H471.20 V304.40 H473.10 V304.70 H475.00 V305.00 H477.53 V306.27 H480.07 V307.53 H482.60 V308.80 H484.50 V310.07 H486.40 V311.33 H488.30 V312.60 H490.20 V314.30 H492.10 V316.00 H494.00 V316.27 H495.90 V316.53 H497.80 V316.80 H500.33 V317.80 H502.87 V318.80 H505.40 V319.80 H507.30 V320.57 H509.20 V321.33 H511.10 V322.10 H513.00 V323.07 H514.90 V324.03 H516.80 V325.00 H519.33 V325.43 H521.87 V325.87 H524.40 V326.30 H526.93 V327.43 H529.47 V328.57 H532.00 V329.70 H534.38 V330.55 H536.75 V331.40 H539.12 V332.25 H541.50 V333.10 H543.62 V333.20 H545.75 V333.30 H547.88 V333.40 H550.00 V333.50 H552.13 V333.60 H554.27 V333.70 H556.40 V333.80 H558.30 V334.50 H574.40 V334.50 H576.30 V335.30 H578.20 V336.10 H580.10 V336.73 H582.00 V337.37 H583.90 V338.00 H595.30 V338.00 H597.65 V339.40 H600.00 V340.80 H602.44 V341.07 H604.89 V341.34 H607.33 V341.61 H609.77 V341.89 H612.21 V342.16 H614.66 V342.43 H617.10 V342.70 H619.63 V343.13 H622.17 V343.57 H624.70 V344.00 H627.10 V344.95 H629.50 V345.90 H631.70 V346.40 H633.90 V346.90 H636.10 V347.40 H658.90 V347.40 H660.80 V349.00 H672.20 V349.00 H673.60 V349.65 H675.00 V350.30" fill="none" stroke="#2b80c3" stroke-width="1.55" />
<path d="M428.50,257.60 H429.95 V259.50 H431.40 V261.40 H432.03 V263.93 H432.67 V266.47 H433.30 V269.00 H433.68 V271.28 H434.06 V273.56 H434.44 V275.84 H434.82 V278.12 H435.20 V280.40 H435.44 V282.76 H435.68 V285.12 H435.91 V287.49 H436.15 V289.85 H436.39 V292.21 H436.62 V294.57 H436.86 V296.94 H437.10 V299.30 H437.18 V301.72 H437.26 V304.14 H437.35 V306.55 H437.43 V308.97 H437.51 V311.39 H437.59 V313.81 H437.67 V316.23 H437.75 V318.65 H437.84 V321.06 H437.92 V323.48 H438.00 V325.90 H438.17 V328.25 H438.33 V330.60 H438.50 V332.95 H438.67 V335.30 H438.83 V337.65 H439.00 V340.00 H439.93 V342.53 H440.87 V345.07 H441.80 V347.60 H442.77 V349.50 H443.73 V351.40 H444.70 V353.30 H445.33 V355.20 H445.97 V357.10 H446.60 V359.00 H446.98 V361.46 H447.36 V363.92 H447.74 V366.38 H448.12 V368.84 H448.50 V371.30 H450.85 V371.80 H453.20 V372.30 H455.10 V374.20 H455.48 V376.28 H455.86 V378.36 H456.24 V380.44 H456.62 V382.52 H457.00 V384.60 H458.45 V386.50 H459.90 V388.40 H461.30 V389.35 H462.70 V390.30 H464.10 V391.25 H465.50 V392.20 H466.95 V393.15 H468.40 V394.10 H469.33 V396.30 H470.27 V398.50 H471.20 V400.70 H486.40 V400.70 H488.30 V402.60 H490.20 V402.80 H492.10 V403.00 H493.55 V404.50 H495.00 V406.00 H496.90 V406.70 H498.80 V407.40 H501.40 V407.62 H504.00 V407.85 H506.60 V408.07 H509.20 V408.30 H511.10 V409.27 H513.00 V410.23 H514.90 V411.20 H543.40 V411.20 H543.85 V413.10 H544.30 V415.00 H546.89 V414.99 H549.49 V414.98 H552.08 V414.96 H554.67 V414.95 H557.27 V414.94 H559.86 V414.93 H562.46 V414.91 H565.05 V414.90 H567.64 V414.89 H570.24 V414.88 H572.83 V414.86 H575.42 V414.85 H578.02 V414.84 H580.61 V414.82 H583.21 V414.81 H585.80 V414.80 H586.30 V416.25 H586.80 V417.70 H597.20 V417.70 H597.65 V419.10 H598.10 V420.50 H645.60 V420.50 H646.50 V423.00 H675.00 V423.00" fill="none" stroke="#f58a2c" stroke-width="1.55" />
<g transform="translate(640.50,0) scale(1.0000,1) translate(-640.50,0)">
<text x="626.81" y="338.50" font-size="7.0" fill="#3a3a3a" style="white-space:pre">NI. </text>
<path d="M638.30,335.18 H640.80 V333.75 L642.90,335.60 L640.80,337.45 V336.02 H638.30 Z" fill="#3a3a3a" fill-opacity="0.9"/>
<text x="643.30" y="338.50" font-size="7.0" fill="#3a3a3a" style="white-space:pre"> NI.</text>
</g>
<g transform="translate(633.80,0) scale(1.0000,1) translate(-633.80,0)">
<text x="622.64" y="372.50" font-size="7.0" fill="#3a3a3a" style="white-space:pre">NI. </text>
<path d="M634.13,369.18 H636.63 V367.75 L638.73,369.60 L636.63,371.45 V370.02 H634.13 Z" fill="#3a3a3a" fill-opacity="0.9"/>
<text x="639.13" y="372.50" font-size="7.0" fill="#3a3a3a" style="white-space:pre"> I.</text>
</g>
<g transform="translate(638.00,0) scale(1.0000,1) translate(-638.00,0)">
<text x="626.84" y="394.30" font-size="7.0" fill="#3a3a3a" style="white-space:pre">I. </text>
<path d="M633.27,390.98 H635.77 V389.55 L637.87,391.40 L635.77,393.25 V391.82 H633.27 Z" fill="#3a3a3a" fill-opacity="0.9"/>
<text x="638.27" y="394.30" font-size="7.0" fill="#3a3a3a" style="white-space:pre"> NI.</text>
</g>
<g transform="translate(650.30,0) scale(1.0000,1) translate(-650.30,0)">
<text x="641.67" y="416.20" font-size="7.0" fill="#3a3a3a" style="white-space:pre">I. </text>
<path d="M648.10,412.88 H650.60 V411.45 L652.70,413.30 L650.60,415.15 V413.72 H648.10 Z" fill="#3a3a3a" fill-opacity="0.9"/>
<text x="653.10" y="416.20" font-size="7.0" fill="#3a3a3a" style="white-space:pre"> I.</text>
</g>
<g transform="translate(594.70,0) scale(0.9530,1) translate(-594.70,0)">
<text x="559.60" y="271.40" font-size="7.0" fill="#3459a8" style="white-space:pre">NI. </text>
<path d="M571.09,268.08 H573.59 V266.65 L575.69,268.50 L573.59,270.35 V268.92 H571.09 Z" fill="#3459a8" fill-opacity="0.9"/>
<text x="576.09" y="271.40" font-size="7.0" fill="#3459a8" style="white-space:pre"> I.</text>
<text x="581.93" y="271.40" font-size="7.0" fill="#3a3a3a" style="white-space:pre"> | Ref: </text>
<text x="602.42" y="271.40" font-size="7.0" fill="#3d8ed0" style="white-space:pre">NI. </text>
<path d="M613.91,268.08 H616.41 V266.65 L618.51,268.50 L616.41,270.35 V268.92 H613.91 Z" fill="#3d8ed0" fill-opacity="0.9"/>
<text x="618.91" y="271.40" font-size="7.0" fill="#3d8ed0" style="white-space:pre"> NI.</text>
</g>
<text x="594.70" y="281.50" font-size="7.0" text-anchor="middle" fill="#3a3a3a" textLength="104.50" lengthAdjust="spacingAndGlyphs" >Adj. HR (95% CI): 1.29 (0.71–2.35)</text>
<text x="594.70" y="291.10" font-size="7.0" text-anchor="middle" fill="#3a3a3a"><tspan font-style="italic">P</tspan> = 0.4</text>
<g transform="translate(485.50,0) scale(0.9530,1) translate(-485.50,0)">
<text x="455.46" y="419.70" font-size="7.0" fill="#f0873a" style="white-space:pre">I. </text>
<path d="M461.89,416.38 H464.39 V414.95 L466.49,416.80 L464.39,418.65 V417.22 H461.89 Z" fill="#f0873a" fill-opacity="0.9"/>
<text x="466.89" y="419.70" font-size="7.0" fill="#f0873a" style="white-space:pre"> NI.</text>
<text x="477.78" y="419.70" font-size="7.0" fill="#3a3a3a" style="white-space:pre"> | Ref: </text>
<text x="498.27" y="419.70" font-size="7.0" fill="#f0873a" style="white-space:pre">I. </text>
<path d="M504.71,416.38 H507.21 V414.95 L509.31,416.80 L507.21,418.65 V417.22 H504.71 Z" fill="#f0873a" fill-opacity="0.9"/>
<text x="509.71" y="419.70" font-size="7.0" fill="#f0873a" style="white-space:pre"> I.</text>
</g>
<text x="486.40" y="430.30" font-size="7.0" text-anchor="middle" fill="#3a3a3a" textLength="106.90" lengthAdjust="spacingAndGlyphs" >Adj. HR (95% CI): 0.42 (0.30–0.59)</text>
<text x="486.40" y="440.50" font-size="7.0" text-anchor="middle" fill="#3a3a3a"><tspan font-style="italic">P</tspan> &lt; 0.001</text>
<text x="417.40" y="479.20" font-size="8.2" text-anchor="start" fill="#3a3a3a" textLength="24.30" lengthAdjust="spacingAndGlyphs" >At risk</text>
<rect x="411.50" y="483.50" width="5.60" height="5.40" fill="#f58a2a" />
<text x="428.45" y="488.70" font-size="7.0" text-anchor="middle" fill="#3a3a3a"  >133</text>
<text x="475.26" y="488.70" font-size="7.0" text-anchor="middle" fill="#3a3a3a"  >26</text>
<text x="522.07" y="488.70" font-size="7.0" text-anchor="middle" fill="#3a3a3a"  >19</text>
<text x="568.88" y="488.70" font-size="7.0" text-anchor="middle" fill="#3a3a3a"  >12</text>
<text x="615.69" y="488.70" font-size="7.0" text-anchor="middle" fill="#3a3a3a"  >9</text>
<text x="662.50" y="488.70" font-size="7.0" text-anchor="middle" fill="#3a3a3a"  >8</text>
<rect x="411.50" y="492.17" width="5.60" height="5.40" fill="#d06628" />
<text x="428.45" y="497.37" font-size="7.0" text-anchor="middle" fill="#3a3a3a"  >88</text>
<text x="475.26" y="497.37" font-size="7.0" text-anchor="middle" fill="#3a3a3a"  >51</text>
<text x="522.07" y="497.37" font-size="7.0" text-anchor="middle" fill="#3a3a3a"  >30</text>
<text x="568.88" y="497.37" font-size="7.0" text-anchor="middle" fill="#3a3a3a"  >20</text>
<text x="615.69" y="497.37" font-size="7.0" text-anchor="middle" fill="#3a3a3a"  >11</text>
<text x="662.50" y="497.37" font-size="7.0" text-anchor="middle" fill="#3a3a3a"  >9</text>
<rect x="411.50" y="500.84" width="5.60" height="5.40" fill="#25409a" />
<text x="428.45" y="506.04" font-size="7.0" text-anchor="middle" fill="#3a3a3a"  >26</text>
<text x="475.26" y="506.04" font-size="7.0" text-anchor="middle" fill="#3a3a3a"  >13</text>
<text x="522.07" y="506.04" font-size="7.0" text-anchor="middle" fill="#3a3a3a"  >8</text>
<text x="568.88" y="506.04" font-size="7.0" text-anchor="middle" fill="#3a3a3a"  >8</text>
<text x="615.69" y="506.04" font-size="7.0" text-anchor="middle" fill="#3a3a3a"  >5</text>
<text x="662.50" y="506.04" font-size="7.0" text-anchor="middle" fill="#3a3a3a"  >3</text>
<rect x="411.50" y="509.51" width="5.60" height="5.40" fill="#2a85c8" />
<text x="428.45" y="514.71" font-size="7.0" text-anchor="middle" fill="#3a3a3a"  >399</text>
<text x="475.26" y="514.71" font-size="7.0" text-anchor="middle" fill="#3a3a3a"  >249</text>
<text x="522.07" y="514.71" font-size="7.0" text-anchor="middle" fill="#3a3a3a"  >168</text>
<text x="568.88" y="514.71" font-size="7.0" text-anchor="middle" fill="#3a3a3a"  >130</text>
<text x="615.69" y="514.71" font-size="7.0" text-anchor="middle" fill="#3a3a3a"  >96</text>
<text x="662.50" y="514.71" font-size="7.0" text-anchor="middle" fill="#3a3a3a"  >78</text>
</g>
<g>
<text x="-1.00" y="549.90" font-size="13.2" font-weight="bold" fill="#111" stroke="#111" stroke-width="0.5">e</text>
<line x1="60.80" y1="755.50" x2="317.80" y2="755.50" stroke="#e2e4e6" stroke-width="0.9" />
<line x1="60.80" y1="731.71" x2="317.80" y2="731.71" stroke="#e2e4e6" stroke-width="0.9" />
<line x1="60.80" y1="707.92" x2="317.80" y2="707.92" stroke="#e2e4e6" stroke-width="0.9" />
<line x1="60.80" y1="684.14" x2="317.80" y2="684.14" stroke="#e2e4e6" stroke-width="0.9" />
<line x1="60.80" y1="660.35" x2="317.80" y2="660.35" stroke="#e2e4e6" stroke-width="0.9" />
<line x1="60.80" y1="636.56" x2="317.80" y2="636.56" stroke="#e2e4e6" stroke-width="0.9" />
<line x1="60.80" y1="612.78" x2="317.80" y2="612.78" stroke="#e2e4e6" stroke-width="0.9" />
<line x1="60.80" y1="588.99" x2="317.80" y2="588.99" stroke="#e2e4e6" stroke-width="0.9" />
<line x1="60.80" y1="565.20" x2="317.80" y2="565.20" stroke="#e2e4e6" stroke-width="0.9" />
<line x1="72.46" y1="565.20" x2="72.46" y2="757.50" stroke="#e2e4e6" stroke-width="0.9" />
<line x1="95.86" y1="565.20" x2="95.86" y2="757.50" stroke="#e2e4e6" stroke-width="0.9" />
<line x1="119.27" y1="565.20" x2="119.27" y2="757.50" stroke="#e2e4e6" stroke-width="0.9" />
<line x1="142.68" y1="565.20" x2="142.68" y2="757.50" stroke="#e2e4e6" stroke-width="0.9" />
<line x1="166.08" y1="565.20" x2="166.08" y2="757.50" stroke="#e2e4e6" stroke-width="0.9" />
<line x1="189.49" y1="565.20" x2="189.49" y2="757.50" stroke="#e2e4e6" stroke-width="0.9" />
<line x1="212.89" y1="565.20" x2="212.89" y2="757.50" stroke="#e2e4e6" stroke-width="0.9" />
<line x1="236.30" y1="565.20" x2="236.30" y2="757.50" stroke="#e2e4e6" stroke-width="0.9" />
<line x1="259.70" y1="565.20" x2="259.70" y2="757.50" stroke="#e2e4e6" stroke-width="0.9" />
<line x1="283.11" y1="565.20" x2="283.11" y2="757.50" stroke="#e2e4e6" stroke-width="0.9" />
<line x1="306.51" y1="565.20" x2="306.51" y2="757.50" stroke="#e2e4e6" stroke-width="0.9" />
<text x="57.40" y="758.40" font-size="7.9" text-anchor="end" fill="#3a3a3a"  >0%</text>
<text x="57.40" y="710.82" font-size="7.9" text-anchor="end" fill="#3a3a3a"  >25%</text>
<text x="57.40" y="663.25" font-size="7.9" text-anchor="end" fill="#3a3a3a"  >50%</text>
<text x="57.40" y="615.68" font-size="7.9" text-anchor="end" fill="#3a3a3a"  >75%</text>
<text x="57.40" y="568.10" font-size="7.9" text-anchor="end" fill="#3a3a3a"  >100%</text>
<text x="72.46" y="767.40" font-size="7.9" text-anchor="middle" fill="#3a3a3a"  >0</text>
<text x="119.27" y="767.40" font-size="7.9" text-anchor="middle" fill="#3a3a3a"  >5</text>
<text x="166.08" y="767.40" font-size="7.9" text-anchor="middle" fill="#3a3a3a"  >10</text>
<text x="212.89" y="767.40" font-size="7.9" text-anchor="middle" fill="#3a3a3a"  >15</text>
<text x="259.70" y="767.40" font-size="7.9" text-anchor="middle" fill="#3a3a3a"  >20</text>
<text x="306.51" y="767.40" font-size="7.9" text-anchor="middle" fill="#3a3a3a"  >25</text>
<text x="189.30" y="781.10" font-size="9.0" text-anchor="middle" fill="#3a3a3a" textLength="113.90" lengthAdjust="spacingAndGlyphs" >Months from CAR–T infusion</text>
<text x="0" y="0" font-size="8.8" text-anchor="middle" fill="#3a3a3a" textLength="56.93" lengthAdjust="spacingAndGlyphs" transform="translate(32.50,661.55) rotate(-90)">OS probability</text>
<path d="M72.60,565.10 H76.40 V565.80 H80.20 V566.50 H84.00 V567.20 H87.80 V567.90 H90.97 V568.67 H94.13 V569.43 H97.30 V570.20 H99.65 V572.85 H102.00 V575.50 H105.80 V577.80 H108.20 V578.00 H110.60 V578.20 H113.90 V578.75 H117.20 V579.30 H120.03 V580.07 H122.87 V580.83 H125.70 V581.60 H128.87 V582.23 H132.03 V582.87 H135.20 V583.50 H139.00 V586.30 H140.90 V589.15 H142.80 V592.00 H146.60 V595.80 H150.40 V599.60 H154.20 V600.05 H158.00 V600.50 H161.80 V603.40 H165.60 V607.20 H167.50 V609.55 H169.40 V611.90 H172.25 V612.85 H175.10 V613.80 H178.90 V616.70 H182.70 V617.65 H186.50 V618.60 H190.00 V618.90 H193.80 V620.80 H197.60 V622.70 H201.40 V623.85 H205.20 V625.00 H222.30 V625.00 H224.65 V628.60 H227.00 V632.20 H230.55 V632.68 H234.10 V633.15 H237.65 V633.62 H241.20 V634.10 H242.15 V637.40 H243.10 V640.70 H246.27 V641.67 H249.43 V642.63 H252.60 V643.60 H315.30 V643.60 H317.20 V646.40" fill="none" stroke="#d3702f" stroke-width="1.55" stroke-dasharray="13.8 5.2"/>
<path d="M72.60,565.10 H84.00 V565.10 H84.00 V573.00 H86.80 V575.90 H86.80 V582.50 H89.20 V583.95 H91.60 V585.40 H92.55 V589.20 H93.50 V593.00 H95.85 V594.90 H98.20 V596.80 H101.05 V598.20 H103.90 V599.60 H104.90 V603.40 H105.85 V605.75 H106.80 V608.10 H108.70 V610.50 H110.60 V612.90 H112.45 V615.45 H114.30 V618.00 H117.65 V618.30 H121.00 V618.60 H121.45 V620.95 H121.90 V623.30 H140.90 V623.30 H141.85 V625.95 H142.80 V628.60 H145.97 V628.73 H149.13 V628.87 H152.30 V629.00 H153.25 V631.85 H154.20 V634.70 H155.60 V637.10 H157.00 V639.50 H159.40 V642.80 H161.80 V646.10 H162.43 V649.90 H163.07 V653.70 H163.70 V657.50 H167.46 V657.54 H171.21 V657.59 H174.97 V657.63 H178.73 V657.67 H182.49 V657.71 H186.24 V657.76 H190.00 V657.80 H192.35 V660.65 H194.70 V663.50 H198.05 V664.45 H201.40 V665.40 H202.35 V667.80 H203.30 V670.20 H206.15 V672.55 H209.00 V674.90 H211.35 V677.75 H213.70 V680.60 H215.60 V683.45 H217.50 V686.30 H317.80 V686.30" fill="none" stroke="#2d4e9e" stroke-width="1.55" stroke-dasharray="13.5 5.2"/>
<path d="M72.60,565.10 H74.68 V565.16 H76.76 V565.22 H78.84 V565.28 H80.92 V565.34 H83.00 V565.40 H84.45 V566.65 H85.90 V567.90 H88.43 V568.53 H90.97 V569.17 H93.50 V569.80 H96.03 V570.57 H98.57 V571.33 H101.10 V572.10 H103.63 V573.23 H106.17 V574.37 H108.70 V575.50 H111.20 V576.57 H113.70 V577.63 H116.20 V578.70 H118.73 V579.97 H121.27 V581.23 H123.80 V582.50 H126.33 V583.47 H128.87 V584.43 H131.40 V585.40 H133.93 V586.67 H136.47 V587.93 H139.00 V589.20 H140.90 V590.13 H142.80 V591.07 H144.70 V592.00 H147.23 V592.63 H149.77 V593.27 H152.30 V593.90 H154.20 V594.53 H156.10 V595.17 H158.00 V595.80 H160.53 V596.23 H163.07 V596.67 H165.60 V597.10 H167.50 V598.23 H169.40 V599.37 H171.30 V600.50 H173.20 V601.77 H175.10 V603.03 H177.00 V604.30 H178.90 V604.63 H180.80 V604.97 H182.70 V605.30 H184.60 V606.23 H186.50 V607.17 H188.40 V608.10 H190.83 V609.50 H193.27 V610.90 H195.70 V612.30 H198.23 V613.03 H200.77 V613.77 H203.30 V614.50 H205.83 V615.13 H208.37 V615.77 H210.90 V616.40 H213.03 V616.55 H215.15 V616.70 H217.28 V616.85 H219.40 V617.00 H221.30 V617.97 H223.20 V618.93 H225.10 V619.90 H227.25 V620.60 H229.40 V621.30 H231.55 V622.00 H233.70 V622.70 H235.96 V622.96 H238.22 V623.22 H240.48 V623.48 H242.74 V623.74 H245.00 V624.00 H247.28 V624.62 H249.56 V625.24 H251.84 V625.86 H254.12 V626.48 H256.40 V627.10 H258.62 V627.32 H260.83 V627.53 H263.05 V627.75 H265.27 V627.97 H267.48 V628.18 H269.70 V628.40 H271.60 V629.65 H273.50 V630.90 H275.78 V631.04 H278.06 V631.18 H280.34 V631.32 H282.62 V631.46 H284.90 V631.60 H287.27 V631.79 H289.65 V631.98 H292.02 V632.16 H294.40 V632.35 H296.77 V632.54 H299.15 V632.73 H301.52 V632.91 H303.90 V633.10 H306.27 V633.35 H308.65 V633.60 H311.02 V633.85 H313.40 V634.10 H315.60 V635.05 H317.80 V636.00" fill="none" stroke="#2b80c3" stroke-width="1.55" />
<path d="M72.60,565.10 H74.50 V567.65 H76.40 V570.20 H77.35 V572.58 H78.30 V574.95 H79.25 V577.33 H80.20 V579.70 H81.15 V581.83 H82.10 V583.95 H83.05 V586.08 H84.00 V588.20 H84.76 V590.48 H85.52 V592.76 H86.28 V595.04 H87.04 V597.32 H87.80 V599.60 H88.28 V601.73 H88.75 V603.85 H89.22 V605.98 H89.70 V608.10 H90.97 V610.00 H92.23 V611.90 H93.50 V613.80 H94.90 V615.70 H96.30 V617.60 H97.57 V619.83 H98.83 V622.07 H100.10 V624.30 H102.50 V626.65 H104.90 V629.00 H106.80 V631.40 H108.70 V633.80 H109.62 V635.92 H110.55 V638.05 H111.48 V640.17 H112.40 V642.30 H113.35 V644.67 H114.30 V647.05 H115.25 V649.42 H116.20 V651.80 H118.10 V652.43 H120.00 V653.07 H121.90 V653.70 H123.80 V654.33 H125.70 V654.97 H127.60 V655.60 H130.13 V656.53 H132.67 V657.47 H135.20 V658.40 H136.47 V660.30 H137.73 V662.20 H139.00 V664.10 H140.43 V666.62 H141.85 V669.15 H143.27 V671.68 H144.70 V674.20 H147.23 V674.97 H149.77 V675.73 H152.30 V676.50 H154.83 V678.07 H157.37 V679.63 H159.90 V681.20 H161.80 V682.45 H163.70 V683.70 H188.40 V683.70 H190.20 V685.83 H192.00 V687.97 H193.80 V690.10 H196.00 V690.73 H198.20 V691.37 H200.40 V692.00 H213.70 V692.00 H216.10 V693.90 H218.50 V695.80 H220.40 V698.00 H222.30 V700.20 H224.20 V702.40 H226.10 V703.03 H228.00 V703.67 H229.90 V704.30 H232.25 V705.90 H234.60 V707.50 H236.88 V708.00 H239.16 V708.50 H241.44 V709.00 H243.72 V709.50 H246.00 V710.00 H248.22 V710.10 H250.43 V710.20 H252.65 V710.30 H254.87 V710.40 H257.08 V710.50 H259.30 V710.60 H261.20 V712.85 H263.10 V715.10 H265.45 V716.35 H267.80 V717.60 H283.90 V717.60 H285.80 V719.17 H287.70 V720.73 H289.60 V722.30 H317.80 V722.30" fill="none" stroke="#f58a2c" stroke-width="1.55" />
<g transform="translate(296.30,0) scale(1.0000,1) translate(-296.30,0)">
<text x="282.61" y="625.90" font-size="7.0" fill="#3a3a3a" style="white-space:pre">NI. </text>
<path d="M294.10,622.58 H296.60 V621.15 L298.70,623.00 L296.60,624.85 V623.42 H294.10 Z" fill="#3a3a3a" fill-opacity="0.9"/>
<text x="299.10" y="625.90" font-size="7.0" fill="#3a3a3a" style="white-space:pre"> NI.</text>
</g>
<g transform="translate(299.10,0) scale(1.0000,1) translate(-299.10,0)">
<text x="287.94" y="653.60" font-size="7.0" fill="#3a3a3a" style="white-space:pre">I. </text>
<path d="M294.37,650.28 H296.87 V648.85 L298.97,650.70 L296.87,652.55 V651.12 H294.37 Z" fill="#3a3a3a" fill-opacity="0.9"/>
<text x="299.37" y="653.60" font-size="7.0" fill="#3a3a3a" style="white-space:pre"> NI.</text>
</g>
<g transform="translate(298.70,0) scale(1.0000,1) translate(-298.70,0)">
<text x="287.54" y="681.90" font-size="7.0" fill="#3a3a3a" style="white-space:pre">NI. </text>
<path d="M299.03,678.58 H301.53 V677.15 L303.63,679.00 L301.53,680.85 V679.42 H299.03 Z" fill="#3a3a3a" fill-opacity="0.9"/>
<text x="304.03" y="681.90" font-size="7.0" fill="#3a3a3a" style="white-space:pre"> I.</text>
</g>
<g transform="translate(303.90,0) scale(1.0000,1) translate(-303.90,0)">
<text x="295.27" y="719.90" font-size="7.0" fill="#3a3a3a" style="white-space:pre">I. </text>
<path d="M301.70,716.58 H304.20 V715.15 L306.30,717.00 L304.20,718.85 V717.42 H301.70 Z" fill="#3a3a3a" fill-opacity="0.9"/>
<text x="306.70" y="719.90" font-size="7.0" fill="#3a3a3a" style="white-space:pre"> I.</text>
</g>
<g transform="translate(238.80,0) scale(0.9530,1) translate(-238.80,0)">
<text x="203.70" y="573.20" font-size="7.0" fill="#3459a8" style="white-space:pre">NI. </text>
<path d="M215.19,569.88 H217.69 V568.45 L219.79,570.30 L217.69,572.15 V570.72 H215.19 Z" fill="#3459a8" fill-opacity="0.9"/>
<text x="220.19" y="573.20" font-size="7.0" fill="#3459a8" style="white-space:pre"> I.</text>
<text x="226.03" y="573.20" font-size="7.0" fill="#3a3a3a" style="white-space:pre"> | Ref: </text>
<text x="246.52" y="573.20" font-size="7.0" fill="#3d8ed0" style="white-space:pre">NI. </text>
<path d="M258.01,569.88 H260.51 V568.45 L262.61,570.30 L260.51,572.15 V570.72 H258.01 Z" fill="#3d8ed0" fill-opacity="0.9"/>
<text x="263.01" y="573.20" font-size="7.0" fill="#3d8ed0" style="white-space:pre"> NI.</text>
</g>
<text x="238.80" y="583.30" font-size="7.0" text-anchor="middle" fill="#3a3a3a" textLength="104.50" lengthAdjust="spacingAndGlyphs" >Adj. HR (95% CI): 2.09 (1.28–3.40)</text>
<text x="238.80" y="592.90" font-size="7.0" text-anchor="middle" fill="#3a3a3a"><tspan font-style="italic">P</tspan> = 0.003</text>
<g transform="translate(136.00,0) scale(0.9530,1) translate(-136.00,0)">
<text x="105.96" y="729.80" font-size="7.0" fill="#f0873a" style="white-space:pre">I. </text>
<path d="M112.39,726.48 H114.89 V725.05 L116.99,726.90 L114.89,728.75 V727.32 H112.39 Z" fill="#f0873a" fill-opacity="0.9"/>
<text x="117.39" y="729.80" font-size="7.0" fill="#f0873a" style="white-space:pre"> NI.</text>
<text x="128.28" y="729.80" font-size="7.0" fill="#3a3a3a" style="white-space:pre"> | Ref: </text>
<text x="148.77" y="729.80" font-size="7.0" fill="#f0873a" style="white-space:pre">I. </text>
<path d="M155.21,726.48 H157.71 V725.05 L159.81,726.90 L157.71,728.75 V727.32 H155.21 Z" fill="#f0873a" fill-opacity="0.9"/>
<text x="160.21" y="729.80" font-size="7.0" fill="#f0873a" style="white-space:pre"> I.</text>
</g>
<text x="137.60" y="740.40" font-size="7.0" text-anchor="middle" fill="#3a3a3a" textLength="106.90" lengthAdjust="spacingAndGlyphs" >Adj. HR (95% CI): 0.32 (0.22–0.46)</text>
<text x="137.60" y="750.60" font-size="7.0" text-anchor="middle" fill="#3a3a3a"><tspan font-style="italic">P</tspan> &lt; 0.001</text>
<text x="61.00" y="787.10" font-size="8.2" text-anchor="start" fill="#3a3a3a" textLength="24.30" lengthAdjust="spacingAndGlyphs" >At risk</text>
<rect x="55.10" y="791.40" width="5.60" height="5.40" fill="#f58a2a" />
<text x="72.46" y="796.60" font-size="7.0" text-anchor="middle" fill="#3a3a3a"  >118</text>
<text x="119.27" y="796.60" font-size="7.0" text-anchor="middle" fill="#3a3a3a"  >61</text>
<text x="166.08" y="796.60" font-size="7.0" text-anchor="middle" fill="#3a3a3a"  >40</text>
<text x="212.89" y="796.60" font-size="7.0" text-anchor="middle" fill="#3a3a3a"  >29</text>
<text x="259.70" y="796.60" font-size="7.0" text-anchor="middle" fill="#3a3a3a"  >18</text>
<text x="306.51" y="796.60" font-size="7.0" text-anchor="middle" fill="#3a3a3a"  >12</text>
<rect x="55.10" y="800.07" width="5.60" height="5.40" fill="#d06628" />
<text x="72.46" y="805.27" font-size="7.0" text-anchor="middle" fill="#3a3a3a"  >137</text>
<text x="119.27" y="805.27" font-size="7.0" text-anchor="middle" fill="#3a3a3a"  >121</text>
<text x="166.08" y="805.27" font-size="7.0" text-anchor="middle" fill="#3a3a3a"  >86</text>
<text x="212.89" y="805.27" font-size="7.0" text-anchor="middle" fill="#3a3a3a"  >67</text>
<text x="259.70" y="805.27" font-size="7.0" text-anchor="middle" fill="#3a3a3a"  >42</text>
<text x="306.51" y="805.27" font-size="7.0" text-anchor="middle" fill="#3a3a3a"  >40</text>
<rect x="55.10" y="808.74" width="5.60" height="5.40" fill="#25409a" />
<text x="72.46" y="813.94" font-size="7.0" text-anchor="middle" fill="#3a3a3a"  >41</text>
<text x="119.27" y="813.94" font-size="7.0" text-anchor="middle" fill="#3a3a3a"  >27</text>
<text x="166.08" y="813.94" font-size="7.0" text-anchor="middle" fill="#3a3a3a"  >17</text>
<text x="212.89" y="813.94" font-size="7.0" text-anchor="middle" fill="#3a3a3a"  >14</text>
<text x="259.70" y="813.94" font-size="7.0" text-anchor="middle" fill="#3a3a3a"  >9</text>
<text x="306.51" y="813.94" font-size="7.0" text-anchor="middle" fill="#3a3a3a"  >9</text>
<rect x="55.10" y="817.41" width="5.60" height="5.40" fill="#2a85c8" />
<text x="72.46" y="822.61" font-size="7.0" text-anchor="middle" fill="#3a3a3a"  >350</text>
<text x="119.27" y="822.61" font-size="7.0" text-anchor="middle" fill="#3a3a3a"  >292</text>
<text x="166.08" y="822.61" font-size="7.0" text-anchor="middle" fill="#3a3a3a"  >220</text>
<text x="212.89" y="822.61" font-size="7.0" text-anchor="middle" fill="#3a3a3a"  >166</text>
<text x="259.70" y="822.61" font-size="7.0" text-anchor="middle" fill="#3a3a3a"  >128</text>
<text x="306.51" y="822.61" font-size="7.0" text-anchor="middle" fill="#3a3a3a"  >108</text>
</g>
<g>
<text x="381.20" y="549.60" font-size="13.2" font-weight="bold" fill="#111" stroke="#111" stroke-width="0.5">f</text>
<line x1="420.50" y1="755.50" x2="678.00" y2="755.50" stroke="#e2e4e6" stroke-width="0.9" />
<line x1="420.50" y1="731.70" x2="678.00" y2="731.70" stroke="#e2e4e6" stroke-width="0.9" />
<line x1="420.50" y1="707.90" x2="678.00" y2="707.90" stroke="#e2e4e6" stroke-width="0.9" />
<line x1="420.50" y1="684.10" x2="678.00" y2="684.10" stroke="#e2e4e6" stroke-width="0.9" />
<line x1="420.50" y1="660.30" x2="678.00" y2="660.30" stroke="#e2e4e6" stroke-width="0.9" />
<line x1="420.50" y1="636.50" x2="678.00" y2="636.50" stroke="#e2e4e6" stroke-width="0.9" />
<line x1="420.50" y1="612.70" x2="678.00" y2="612.70" stroke="#e2e4e6" stroke-width="0.9" />
<line x1="420.50" y1="588.90" x2="678.00" y2="588.90" stroke="#e2e4e6" stroke-width="0.9" />
<line x1="420.50" y1="565.10" x2="678.00" y2="565.10" stroke="#e2e4e6" stroke-width="0.9" />
<line x1="432.46" y1="565.10" x2="432.46" y2="757.50" stroke="#e2e4e6" stroke-width="0.9" />
<line x1="455.87" y1="565.10" x2="455.87" y2="757.50" stroke="#e2e4e6" stroke-width="0.9" />
<line x1="479.27" y1="565.10" x2="479.27" y2="757.50" stroke="#e2e4e6" stroke-width="0.9" />
<line x1="502.67" y1="565.10" x2="502.67" y2="757.50" stroke="#e2e4e6" stroke-width="0.9" />
<line x1="526.08" y1="565.10" x2="526.08" y2="757.50" stroke="#e2e4e6" stroke-width="0.9" />
<line x1="549.49" y1="565.10" x2="549.49" y2="757.50" stroke="#e2e4e6" stroke-width="0.9" />
<line x1="572.89" y1="565.10" x2="572.89" y2="757.50" stroke="#e2e4e6" stroke-width="0.9" />
<line x1="596.29" y1="565.10" x2="596.29" y2="757.50" stroke="#e2e4e6" stroke-width="0.9" />
<line x1="619.70" y1="565.10" x2="619.70" y2="757.50" stroke="#e2e4e6" stroke-width="0.9" />
<line x1="643.11" y1="565.10" x2="643.11" y2="757.50" stroke="#e2e4e6" stroke-width="0.9" />
<line x1="666.51" y1="565.10" x2="666.51" y2="757.50" stroke="#e2e4e6" stroke-width="0.9" />
<text x="417.10" y="758.40" font-size="7.9" text-anchor="end" fill="#3a3a3a"  >0%</text>
<text x="417.10" y="710.80" font-size="7.9" text-anchor="end" fill="#3a3a3a"  >25%</text>
<text x="417.10" y="663.20" font-size="7.9" text-anchor="end" fill="#3a3a3a"  >50%</text>
<text x="417.10" y="615.60" font-size="7.9" text-anchor="end" fill="#3a3a3a"  >75%</text>
<text x="417.10" y="568.00" font-size="7.9" text-anchor="end" fill="#3a3a3a"  >100%</text>
<text x="432.46" y="767.40" font-size="7.9" text-anchor="middle" fill="#3a3a3a"  >0</text>
<text x="479.27" y="767.40" font-size="7.9" text-anchor="middle" fill="#3a3a3a"  >5</text>
<text x="526.08" y="767.40" font-size="7.9" text-anchor="middle" fill="#3a3a3a"  >10</text>
<text x="572.89" y="767.40" font-size="7.9" text-anchor="middle" fill="#3a3a3a"  >15</text>
<text x="619.70" y="767.40" font-size="7.9" text-anchor="middle" fill="#3a3a3a"  >20</text>
<text x="666.51" y="767.40" font-size="7.9" text-anchor="middle" fill="#3a3a3a"  >25</text>
<text x="549.80" y="779.90" font-size="9.0" text-anchor="middle" fill="#3a3a3a" textLength="113.90" lengthAdjust="spacingAndGlyphs" >Months from CAR–T infusion</text>
<text x="0" y="0" font-size="8.8" text-anchor="middle" fill="#3a3a3a" textLength="56.93" lengthAdjust="spacingAndGlyphs" transform="translate(393.30,661.50) rotate(-90)">OS probability</text>
<path d="M432.60,565.10 H436.40 V567.90 H439.20 V569.20 H441.10 V571.40 H443.00 V573.60 H453.50 V573.60 H454.40 V575.50 H457.75 V576.15 H461.10 V576.80 H464.90 V580.60 H465.80 V584.40 H489.50 V584.40 H491.40 V586.30 H494.25 V587.55 H497.10 V588.80 H498.55 V591.85 H500.00 V594.90 H501.40 V597.70 H502.80 V600.50 H504.70 V602.90 H506.60 V605.30 H509.45 V608.15 H512.30 V611.00 H515.15 V612.25 H518.00 V613.50 H521.80 V614.80 H525.60 V616.10 H527.95 V618.30 H530.30 V620.50 H532.20 V623.80 H534.10 V627.10 H534.60 V629.95 H535.10 V632.80 H537.95 V634.25 H540.80 V635.70 H543.65 V637.10 H546.50 V638.50 H548.85 V639.95 H551.20 V641.40 H554.95 V641.45 H558.70 V641.50 H562.45 V641.55 H566.20 V641.60 H569.95 V641.65 H573.70 V641.70 H582.30 V641.70 H582.93 V644.53 H583.57 V647.37 H584.20 V650.20 H588.00 V653.55 H591.80 V656.90 H595.90 V657.53 H600.00 V658.17 H604.10 V658.80 H604.55 V661.15 H605.00 V663.50 H608.35 V664.00 H611.70 V664.50 H613.60 V668.30 H660.10 V668.30 H660.55 V670.65 H661.00 V673.00 H678.00 V673.00" fill="none" stroke="#d3702f" stroke-width="1.55" stroke-dasharray="13.8 5.2"/>
<path d="M432.60,565.10 H444.00 V565.10 H444.45 V568.90 H444.90 V572.70 H447.80 V572.70 H448.25 V576.20 H448.70 V579.70 H463.00 V579.70 H463.45 V582.05 H463.90 V584.40 H467.70 V587.30 H468.33 V590.13 H468.97 V592.97 H469.60 V595.80 H470.05 V599.60 H470.50 V603.40 H474.30 V603.83 H478.10 V604.27 H481.90 V604.70 H485.70 V608.30 H489.50 V611.90 H489.50 V616.70 H493.30 V617.50 H497.10 V618.30 H500.90 V619.10 H504.70 V619.90 H518.00 V619.90 H518.00 V625.20 H520.80 V628.60 H524.80 V628.65 H528.80 V628.70 H532.80 V628.75 H536.80 V628.80 H540.80 V628.85 H544.80 V628.90 H548.80 V628.95 H552.80 V629.00 H553.10 V632.95 H553.40 V636.90 H557.46 V636.98 H561.52 V637.06 H565.58 V637.14 H569.64 V637.22 H573.70 V637.30 H573.70 V645.50 H577.50 V647.40 H577.83 V650.57 H578.17 V653.73 H578.50 V656.90 H579.45 V660.95 H580.40 V665.00 H622.30 V665.00 H622.30 V672.50 H622.80 V675.30 H623.30 V678.10 H645.00 V678.10 H645.00 V690.80 H678.00 V690.80" fill="none" stroke="#2d4e9e" stroke-width="1.55" stroke-dasharray="13.5 5.2"/>
<path d="M432.60,565.10 H444.00 V565.10 H445.90 V565.95 H447.80 V566.80 H449.70 V567.30 H451.60 V567.80 H453.50 V568.30 H455.85 V569.05 H458.20 V569.80 H460.10 V571.00 H462.00 V572.20 H463.90 V573.40 H466.10 V574.10 H468.30 V574.80 H470.50 V575.50 H472.40 V576.13 H474.30 V576.77 H476.20 V577.40 H478.10 V578.35 H480.00 V579.30 H481.90 V580.45 H483.80 V581.60 H485.70 V582.33 H487.60 V583.07 H489.50 V583.80 H491.40 V584.33 H493.30 V584.87 H495.20 V585.40 H497.10 V586.33 H499.00 V587.27 H500.90 V588.20 H502.80 V588.83 H504.70 V589.47 H506.60 V590.10 H509.13 V590.93 H511.67 V591.77 H514.20 V592.60 H516.73 V593.47 H519.27 V594.33 H521.80 V595.20 H524.33 V596.47 H526.87 V597.73 H529.40 V599.00 H531.93 V599.83 H534.47 V600.67 H537.00 V601.50 H539.53 V601.93 H542.07 V602.37 H544.60 V602.80 H546.50 V604.27 H548.40 V605.73 H550.30 V607.20 H552.73 V608.27 H555.17 V609.33 H557.60 V610.40 H559.82 V610.97 H562.03 V611.53 H564.25 V612.10 H566.47 V612.67 H568.68 V613.23 H570.90 V613.80 H573.27 V613.90 H575.65 V614.00 H578.02 V614.10 H580.40 V614.20 H582.93 V615.47 H585.47 V616.73 H588.00 V618.00 H590.20 V618.32 H592.40 V618.63 H594.60 V618.95 H596.80 V619.27 H599.00 V619.58 H601.20 V619.90 H603.73 V620.58 H606.27 V621.27 H608.80 V621.95 H611.33 V622.63 H613.87 V623.32 H616.40 V624.00 H618.62 V624.20 H620.83 V624.40 H623.05 V624.60 H625.27 V624.80 H627.48 V625.00 H629.70 V625.20 H631.60 V626.30 H633.50 V627.40 H636.03 V627.48 H638.57 V627.57 H641.10 V627.65 H643.63 V627.73 H646.17 V627.82 H648.70 V627.90 H651.23 V627.98 H653.77 V628.07 H656.30 V628.15 H658.83 V628.23 H661.37 V628.32 H663.90 V628.40 H666.18 V628.52 H668.46 V628.64 H670.74 V628.76 H673.02 V628.88 H675.30 V629.00 H676.65 V630.10 H678.00 V631.20" fill="none" stroke="#2b80c3" stroke-width="1.55" />
<path d="M432.60,565.10 H434.50 V567.15 H436.40 V569.20 H437.35 V571.58 H438.30 V573.95 H439.25 V576.33 H440.20 V578.70 H440.83 V581.08 H441.47 V583.47 H442.10 V585.85 H442.73 V588.23 H443.37 V590.62 H444.00 V593.00 H444.78 V595.20 H445.57 V597.40 H446.35 V599.60 H447.13 V601.80 H447.92 V604.00 H448.70 V606.20 H450.30 V608.73 H451.90 V611.27 H453.50 V613.80 H454.64 V615.90 H455.78 V618.00 H456.92 V620.10 H458.06 V622.20 H459.20 V624.30 H461.10 V626.83 H463.00 V629.37 H464.90 V631.90 H466.47 V634.43 H468.03 V636.97 H469.60 V639.50 H470.74 V641.76 H471.88 V644.02 H473.02 V646.28 H474.16 V648.54 H475.30 V650.80 H477.50 V651.43 H479.70 V652.07 H481.90 V652.70 H484.43 V653.33 H486.97 V653.97 H489.50 V654.60 H491.40 V655.57 H493.30 V656.53 H495.20 V657.50 H496.47 V659.40 H497.73 V661.30 H499.00 V663.20 H500.90 V665.55 H502.80 V667.90 H504.70 V669.80 H506.60 V671.70 H508.50 V672.67 H510.40 V673.63 H512.30 V674.60 H514.20 V676.17 H516.10 V677.73 H518.00 V679.30 H520.35 V681.70 H522.70 V684.10 H525.16 V684.38 H527.62 V684.66 H530.08 V684.94 H532.54 V685.22 H535.00 V685.50 H537.50 V685.78 H540.00 V686.07 H542.50 V686.35 H545.00 V686.63 H547.50 V686.92 H550.00 V687.20 H551.90 V689.10 H553.80 V691.00 H556.33 V692.27 H558.87 V693.53 H561.40 V694.80 H563.68 V695.38 H565.96 V695.96 H568.24 V696.54 H570.52 V697.12 H572.80 V697.70 H575.33 V698.97 H577.87 V700.23 H580.40 V701.50 H582.30 V703.40 H584.20 V705.30 H586.58 V706.25 H588.95 V707.20 H591.33 V708.15 H593.70 V709.10 H595.90 V709.42 H598.10 V709.73 H600.30 V710.05 H602.50 V710.37 H604.70 V710.68 H606.90 V711.00 H609.18 V711.38 H611.46 V711.76 H613.74 V712.14 H616.02 V712.52 H618.30 V712.90 H620.67 V713.60 H623.05 V714.30 H625.42 V715.00 H627.80 V715.70 H630.12 V715.91 H632.44 V716.12 H634.77 V716.33 H637.09 V716.54 H639.41 V716.76 H641.73 V716.97 H644.06 V717.18 H646.38 V717.39 H648.70 V717.60 H678.00 V717.60" fill="none" stroke="#f58a2c" stroke-width="1.55" />
<g transform="translate(657.20,0) scale(1.0000,1) translate(-657.20,0)">
<text x="643.51" y="622.70" font-size="7.0" fill="#3a3a3a" style="white-space:pre">NI. </text>
<path d="M655.00,619.38 H657.50 V617.95 L659.60,619.80 L657.50,621.65 V620.22 H655.00 Z" fill="#3a3a3a" fill-opacity="0.9"/>
<text x="660.00" y="622.70" font-size="7.0" fill="#3a3a3a" style="white-space:pre"> NI.</text>
</g>
<g transform="translate(662.00,0) scale(1.0000,1) translate(-662.00,0)">
<text x="650.84" y="665.40" font-size="7.0" fill="#3a3a3a" style="white-space:pre">I. </text>
<path d="M657.27,662.08 H659.77 V660.65 L661.87,662.50 L659.77,664.35 V662.92 H657.27 Z" fill="#3a3a3a" fill-opacity="0.9"/>
<text x="662.27" y="665.40" font-size="7.0" fill="#3a3a3a" style="white-space:pre"> NI.</text>
</g>
<g transform="translate(664.80,0) scale(1.0000,1) translate(-664.80,0)">
<text x="653.64" y="698.60" font-size="7.0" fill="#3a3a3a" style="white-space:pre">NI. </text>
<path d="M665.13,695.28 H667.63 V693.85 L669.73,695.70 L667.63,697.55 V696.12 H665.13 Z" fill="#3a3a3a" fill-opacity="0.9"/>
<text x="670.13" y="698.60" font-size="7.0" fill="#3a3a3a" style="white-space:pre"> I.</text>
</g>
<g transform="translate(663.50,0) scale(1.0000,1) translate(-663.50,0)">
<text x="654.87" y="726.10" font-size="7.0" fill="#3a3a3a" style="white-space:pre">I. </text>
<path d="M661.30,722.78 H663.80 V721.35 L665.90,723.20 L663.80,725.05 V723.62 H661.30 Z" fill="#3a3a3a" fill-opacity="0.9"/>
<text x="666.30" y="726.10" font-size="7.0" fill="#3a3a3a" style="white-space:pre"> I.</text>
</g>
<g transform="translate(605.50,0) scale(0.9530,1) translate(-605.50,0)">
<text x="570.40" y="573.50" font-size="7.0" fill="#3459a8" style="white-space:pre">NI. </text>
<path d="M581.89,570.18 H584.39 V568.75 L586.49,570.60 L584.39,572.45 V571.02 H581.89 Z" fill="#3459a8" fill-opacity="0.9"/>
<text x="586.89" y="573.50" font-size="7.0" fill="#3459a8" style="white-space:pre"> I.</text>
<text x="592.73" y="573.50" font-size="7.0" fill="#3a3a3a" style="white-space:pre"> | Ref: </text>
<text x="613.22" y="573.50" font-size="7.0" fill="#3d8ed0" style="white-space:pre">NI. </text>
<path d="M624.71,570.18 H627.21 V568.75 L629.31,570.60 L627.21,572.45 V571.02 H624.71 Z" fill="#3d8ed0" fill-opacity="0.9"/>
<text x="629.71" y="573.50" font-size="7.0" fill="#3d8ed0" style="white-space:pre"> NI.</text>
</g>
<text x="605.50" y="583.60" font-size="7.0" text-anchor="middle" fill="#3a3a3a" textLength="104.50" lengthAdjust="spacingAndGlyphs" >Adj. HR (95% CI): 1.78 (1.00–3.16)</text>
<text x="605.50" y="593.20" font-size="7.0" text-anchor="middle" fill="#3a3a3a"><tspan font-style="italic">P</tspan> = 0.049</text>
<g transform="translate(494.30,0) scale(0.9530,1) translate(-494.30,0)">
<text x="464.26" y="729.80" font-size="7.0" fill="#f0873a" style="white-space:pre">I. </text>
<path d="M470.69,726.48 H473.19 V725.05 L475.29,726.90 L473.19,728.75 V727.32 H470.69 Z" fill="#f0873a" fill-opacity="0.9"/>
<text x="475.69" y="729.80" font-size="7.0" fill="#f0873a" style="white-space:pre"> NI.</text>
<text x="486.58" y="729.80" font-size="7.0" fill="#3a3a3a" style="white-space:pre"> | Ref: </text>
<text x="507.07" y="729.80" font-size="7.0" fill="#f0873a" style="white-space:pre">I. </text>
<path d="M513.51,726.48 H516.01 V725.05 L518.11,726.90 L516.01,728.75 V727.32 H513.51 Z" fill="#f0873a" fill-opacity="0.9"/>
<text x="518.51" y="729.80" font-size="7.0" fill="#f0873a" style="white-space:pre"> I.</text>
</g>
<text x="495.50" y="740.40" font-size="7.0" text-anchor="middle" fill="#3a3a3a" textLength="106.90" lengthAdjust="spacingAndGlyphs" >Adj. HR (95% CI): 0.45 (0.31–0.65)</text>
<text x="495.50" y="750.60" font-size="7.0" text-anchor="middle" fill="#3a3a3a"><tspan font-style="italic">P</tspan> &lt; 0.001</text>
<text x="421.20" y="787.10" font-size="8.2" text-anchor="start" fill="#3a3a3a" textLength="24.30" lengthAdjust="spacingAndGlyphs" >At risk</text>
<rect x="415.30" y="791.40" width="5.60" height="5.40" fill="#f58a2a" />
<text x="432.46" y="796.60" font-size="7.0" text-anchor="middle" fill="#3a3a3a"  >133</text>
<text x="479.27" y="796.60" font-size="7.0" text-anchor="middle" fill="#3a3a3a"  >69</text>
<text x="526.08" y="796.60" font-size="7.0" text-anchor="middle" fill="#3a3a3a"  >43</text>
<text x="572.89" y="796.60" font-size="7.0" text-anchor="middle" fill="#3a3a3a"  >30</text>
<text x="619.70" y="796.60" font-size="7.0" text-anchor="middle" fill="#3a3a3a"  >20</text>
<text x="666.51" y="796.60" font-size="7.0" text-anchor="middle" fill="#3a3a3a"  >17</text>
<rect x="415.30" y="800.07" width="5.60" height="5.40" fill="#d06628" />
<text x="432.46" y="805.27" font-size="7.0" text-anchor="middle" fill="#3a3a3a"  >88</text>
<text x="479.27" y="805.27" font-size="7.0" text-anchor="middle" fill="#3a3a3a"  >75</text>
<text x="526.08" y="805.27" font-size="7.0" text-anchor="middle" fill="#3a3a3a"  >50</text>
<text x="572.89" y="805.27" font-size="7.0" text-anchor="middle" fill="#3a3a3a"  >34</text>
<text x="619.70" y="805.27" font-size="7.0" text-anchor="middle" fill="#3a3a3a"  >21</text>
<text x="666.51" y="805.27" font-size="7.0" text-anchor="middle" fill="#3a3a3a"  >18</text>
<rect x="415.30" y="808.74" width="5.60" height="5.40" fill="#25409a" />
<text x="432.46" y="813.94" font-size="7.0" text-anchor="middle" fill="#3a3a3a"  >26</text>
<text x="479.27" y="813.94" font-size="7.0" text-anchor="middle" fill="#3a3a3a"  >19</text>
<text x="526.08" y="813.94" font-size="7.0" text-anchor="middle" fill="#3a3a3a"  >14</text>
<text x="572.89" y="813.94" font-size="7.0" text-anchor="middle" fill="#3a3a3a"  >13</text>
<text x="619.70" y="813.94" font-size="7.0" text-anchor="middle" fill="#3a3a3a"  >7</text>
<text x="666.51" y="813.94" font-size="7.0" text-anchor="middle" fill="#3a3a3a"  >4</text>
<rect x="415.30" y="817.41" width="5.60" height="5.40" fill="#2a85c8" />
<text x="432.46" y="822.61" font-size="7.0" text-anchor="middle" fill="#3a3a3a"  >399</text>
<text x="479.27" y="822.61" font-size="7.0" text-anchor="middle" fill="#3a3a3a"  >338</text>
<text x="526.08" y="822.61" font-size="7.0" text-anchor="middle" fill="#3a3a3a"  >256</text>
<text x="572.89" y="822.61" font-size="7.0" text-anchor="middle" fill="#3a3a3a"  >199</text>
<text x="619.70" y="822.61" font-size="7.0" text-anchor="middle" fill="#3a3a3a"  >149</text>
<text x="666.51" y="822.61" font-size="7.0" text-anchor="middle" fill="#3a3a3a"  >130</text>
</g>
<line x1="325.70" y1="485.70" x2="332.00" y2="485.70" stroke="#f58a2c" stroke-width="1.55" />
<line x1="395.20" y1="485.70" x2="401.50" y2="485.70" stroke="#f58a2c" stroke-width="1.55" />
<g transform="translate(360.40,0) scale(1.0000,1) translate(-360.40,0)">
<text x="351.77" y="488.20" font-size="7.0" fill="#3a3a3a" style="white-space:pre">I. </text>
<path d="M358.20,484.88 H360.70 V483.45 L362.80,485.30 L360.70,487.15 V485.72 H358.20 Z" fill="#3a3a3a" fill-opacity="0.9"/>
<text x="363.20" y="488.20" font-size="7.0" fill="#3a3a3a" style="white-space:pre"> I.</text>
</g>
<line x1="321.00" y1="494.40" x2="327.30" y2="494.40" stroke="#d3702f" stroke-width="1.55" />
<line x1="330.20" y1="494.40" x2="336.50" y2="494.40" stroke="#d3702f" stroke-width="1.55" />
<line x1="390.50" y1="494.40" x2="396.80" y2="494.40" stroke="#d3702f" stroke-width="1.55" />
<line x1="399.70" y1="494.40" x2="406.00" y2="494.40" stroke="#d3702f" stroke-width="1.55" />
<g transform="translate(360.40,0) scale(1.0000,1) translate(-360.40,0)">
<text x="349.24" y="496.90" font-size="7.0" fill="#3a3a3a" style="white-space:pre">I. </text>
<path d="M355.67,493.58 H358.17 V492.15 L360.27,494.00 L358.17,495.85 V494.42 H355.67 Z" fill="#3a3a3a" fill-opacity="0.9"/>
<text x="360.67" y="496.90" font-size="7.0" fill="#3a3a3a" style="white-space:pre"> NI.</text>
</g>
<line x1="321.00" y1="503.10" x2="327.30" y2="503.10" stroke="#2d4e9e" stroke-width="1.55" />
<line x1="330.20" y1="503.10" x2="336.50" y2="503.10" stroke="#2d4e9e" stroke-width="1.55" />
<line x1="390.50" y1="503.10" x2="396.80" y2="503.10" stroke="#2d4e9e" stroke-width="1.55" />
<line x1="399.70" y1="503.10" x2="406.00" y2="503.10" stroke="#2d4e9e" stroke-width="1.55" />
<g transform="translate(360.40,0) scale(1.0000,1) translate(-360.40,0)">
<text x="349.24" y="505.60" font-size="7.0" fill="#3a3a3a" style="white-space:pre">NI. </text>
<path d="M360.73,502.28 H363.23 V500.85 L365.33,502.70 L363.23,504.55 V503.12 H360.73 Z" fill="#3a3a3a" fill-opacity="0.9"/>
<text x="365.73" y="505.60" font-size="7.0" fill="#3a3a3a" style="white-space:pre"> I.</text>
</g>
<line x1="325.70" y1="511.80" x2="332.00" y2="511.80" stroke="#2b80c3" stroke-width="1.55" />
<line x1="395.20" y1="511.80" x2="401.50" y2="511.80" stroke="#2b80c3" stroke-width="1.55" />
<g transform="translate(360.40,0) scale(1.0000,1) translate(-360.40,0)">
<text x="346.71" y="514.30" font-size="7.0" fill="#3a3a3a" style="white-space:pre">NI. </text>
<path d="M358.20,510.98 H360.70 V509.55 L362.80,511.40 L360.70,513.25 V511.82 H358.20 Z" fill="#3a3a3a" fill-opacity="0.9"/>
<text x="363.20" y="514.30" font-size="7.0" fill="#3a3a3a" style="white-space:pre"> NI.</text>
</g>
<line x1="327.70" y1="794.60" x2="334.00" y2="794.60" stroke="#f58a2c" stroke-width="1.55" />
<line x1="397.20" y1="794.60" x2="403.50" y2="794.60" stroke="#f58a2c" stroke-width="1.55" />
<g transform="translate(362.80,0) scale(1.0000,1) translate(-362.80,0)">
<text x="354.17" y="797.10" font-size="7.0" fill="#3a3a3a" style="white-space:pre">I. </text>
<path d="M360.60,793.78 H363.10 V792.35 L365.20,794.20 L363.10,796.05 V794.62 H360.60 Z" fill="#3a3a3a" fill-opacity="0.9"/>
<text x="365.60" y="797.10" font-size="7.0" fill="#3a3a3a" style="white-space:pre"> I.</text>
</g>
<line x1="323.00" y1="803.30" x2="329.30" y2="803.30" stroke="#d3702f" stroke-width="1.55" />
<line x1="332.20" y1="803.30" x2="338.50" y2="803.30" stroke="#d3702f" stroke-width="1.55" />
<line x1="392.50" y1="803.30" x2="398.80" y2="803.30" stroke="#d3702f" stroke-width="1.55" />
<line x1="401.70" y1="803.30" x2="408.00" y2="803.30" stroke="#d3702f" stroke-width="1.55" />
<g transform="translate(362.80,0) scale(1.0000,1) translate(-362.80,0)">
<text x="351.64" y="805.80" font-size="7.0" fill="#3a3a3a" style="white-space:pre">I. </text>
<path d="M358.07,802.48 H360.57 V801.05 L362.67,802.90 L360.57,804.75 V803.32 H358.07 Z" fill="#3a3a3a" fill-opacity="0.9"/>
<text x="363.07" y="805.80" font-size="7.0" fill="#3a3a3a" style="white-space:pre"> NI.</text>
</g>
<line x1="323.00" y1="812.00" x2="329.30" y2="812.00" stroke="#2d4e9e" stroke-width="1.55" />
<line x1="332.20" y1="812.00" x2="338.50" y2="812.00" stroke="#2d4e9e" stroke-width="1.55" />
<line x1="392.50" y1="812.00" x2="398.80" y2="812.00" stroke="#2d4e9e" stroke-width="1.55" />
<line x1="401.70" y1="812.00" x2="408.00" y2="812.00" stroke="#2d4e9e" stroke-width="1.55" />
<g transform="translate(362.80,0) scale(1.0000,1) translate(-362.80,0)">
<text x="351.64" y="814.50" font-size="7.0" fill="#3a3a3a" style="white-space:pre">NI. </text>
<path d="M363.13,811.18 H365.63 V809.75 L367.73,811.60 L365.63,813.45 V812.02 H363.13 Z" fill="#3a3a3a" fill-opacity="0.9"/>
<text x="368.13" y="814.50" font-size="7.0" fill="#3a3a3a" style="white-space:pre"> I.</text>
</g>
<line x1="327.70" y1="820.70" x2="334.00" y2="820.70" stroke="#2b80c3" stroke-width="1.55" />
<line x1="397.20" y1="820.70" x2="403.50" y2="820.70" stroke="#2b80c3" stroke-width="1.55" />
<g transform="translate(362.80,0) scale(1.0000,1) translate(-362.80,0)">
<text x="349.11" y="823.20" font-size="7.0" fill="#3a3a3a" style="white-space:pre">NI. </text>
<path d="M360.60,819.88 H363.10 V818.45 L365.20,820.30 L363.10,822.15 V820.72 H360.60 Z" fill="#3a3a3a" fill-opacity="0.9"/>
<text x="365.60" y="823.20" font-size="7.0" fill="#3a3a3a" style="white-space:pre"> NI.</text>
</g>
<rect x="125.70" y="527.60" width="127.10" height="19.00" fill="#fff" stroke="#7a7a7a" stroke-width="0.9"/>
<g transform="translate(189.25,0) scale(1.0067,1) translate(-189.25,0)">
<text x="135.96" y="540.00" font-size="8.7" fill="#3a3a3a" style="white-space:pre">Preapheresis </text>
<path d="M190.38,535.87 H193.49 V534.10 L196.10,536.40 L193.49,538.69 V536.92 H190.38 Z" fill="#3a3a3a" fill-opacity="0.9"/>
<text x="196.60" y="540.00" font-size="8.7" fill="#3a3a3a" style="white-space:pre"> Preinfusion</text>
</g>
<rect x="470.70" y="527.60" width="157.30" height="19.00" fill="#fff" stroke="#7a7a7a" stroke-width="0.9"/>
<g transform="translate(549.35,0) scale(1.0286,1) translate(-549.35,0)">
<text x="483.24" y="540.00" font-size="8.7" fill="#3a3a3a" style="white-space:pre">Prelymphodepletion </text>
<path d="M563.30,535.87 H566.41 V534.10 L569.02,536.40 L566.41,538.69 V536.92 H563.30 Z" fill="#3a3a3a" fill-opacity="0.9"/>
<text x="569.52" y="540.00" font-size="8.7" fill="#3a3a3a" style="white-space:pre"> Preinfusion</text>
</g>
</svg></body></html>
